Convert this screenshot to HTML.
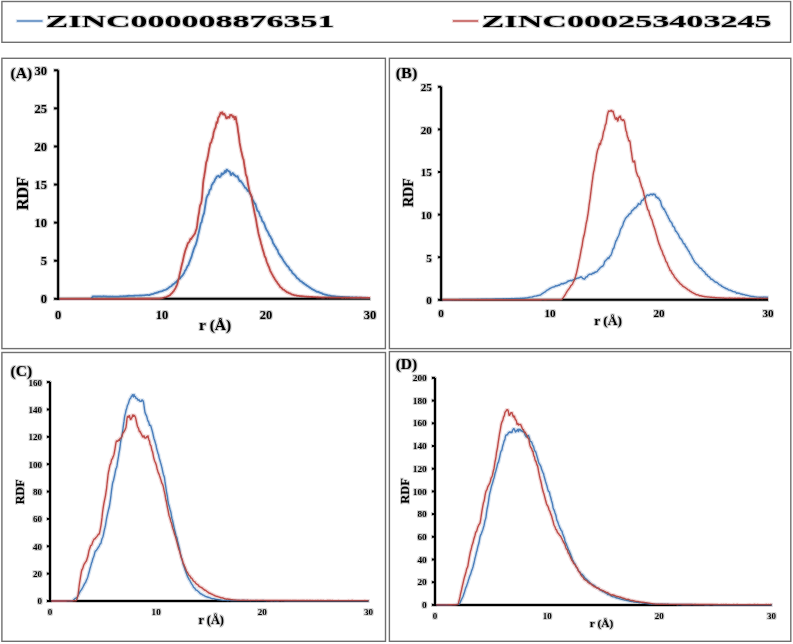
<!DOCTYPE html>
<html><head><meta charset="utf-8"><style>
html,body{margin:0;padding:0;background:#fff;}
body{width:793px;height:644px;overflow:hidden;}
svg{display:block;}
text{font-family:"Liberation Serif",serif;font-weight:bold;fill:#000;}
</style></head><body>
<svg width="793" height="644" viewBox="0 0 793 644">
<defs><filter id="soft" x="0" y="0" width="793" height="644" filterUnits="userSpaceOnUse" color-interpolation-filters="sRGB">
<feMorphology in="SourceGraphic" operator="erode" radius="1" result="e"/>
<feComposite in="SourceGraphic" in2="e" operator="arithmetic" k2="0.78" k3="0.22"/>
</filter></defs>
<g filter="url(#soft)">
<rect x="0" y="0" width="793" height="644" fill="#fff"/>
<line x1="16.8" y1="21" x2="42.5" y2="21" stroke="#4a7ebb" stroke-width="1.5"/>
<text x="45.6" y="27.4" font-size="17.5" textLength="288.8" lengthAdjust="spacingAndGlyphs">ZINC000008876351</text>
<line x1="452.9" y1="21" x2="478.1" y2="21" stroke="#be4b48" stroke-width="1.5"/>
<text x="481.6" y="27.4" font-size="17.5" textLength="290.1" lengthAdjust="spacingAndGlyphs">ZINC000253403245</text>
<line x1="58.1" y1="70.3" x2="58.1" y2="299.8" stroke="#000" stroke-width="2"/>
<line x1="57.1" y1="298.8" x2="370.1" y2="298.8" stroke="#000" stroke-width="2"/>
<line x1="54.1" y1="298.80" x2="58.1" y2="298.80" stroke="#000" stroke-width="2"/>
<text transform="translate(46.9,303.05) scale(1.0,1)" font-size="12.5" text-anchor="end">0</text>
<line x1="54.1" y1="260.72" x2="58.1" y2="260.72" stroke="#000" stroke-width="2"/>
<text transform="translate(46.9,264.97) scale(1.0,1)" font-size="12.5" text-anchor="end">5</text>
<line x1="54.1" y1="222.63" x2="58.1" y2="222.63" stroke="#000" stroke-width="2"/>
<text transform="translate(46.9,226.88) scale(1.0,1)" font-size="12.5" text-anchor="end">10</text>
<line x1="54.1" y1="184.55" x2="58.1" y2="184.55" stroke="#000" stroke-width="2"/>
<text transform="translate(46.9,188.80) scale(1.0,1)" font-size="12.5" text-anchor="end">15</text>
<line x1="54.1" y1="146.47" x2="58.1" y2="146.47" stroke="#000" stroke-width="2"/>
<text transform="translate(46.9,150.72) scale(1.0,1)" font-size="12.5" text-anchor="end">20</text>
<line x1="54.1" y1="108.38" x2="58.1" y2="108.38" stroke="#000" stroke-width="2"/>
<text transform="translate(46.9,112.63) scale(1.0,1)" font-size="12.5" text-anchor="end">25</text>
<line x1="54.1" y1="70.30" x2="58.1" y2="70.30" stroke="#000" stroke-width="2"/>
<text transform="translate(46.9,74.55) scale(1.0,1)" font-size="12.5" text-anchor="end">30</text>
<path d="M59.1,298.80 L91.1,298.79 L91.6,298.27 L92.1,297.44 L92.6,296.59 L93.1,296.36 L93.6,296.56 L94.1,296.46 L94.6,296.39 L95.1,296.45 L95.6,296.51 L96.1,296.56 L96.6,296.49 L97.1,296.50 L97.6,296.48 L98.1,296.35 L98.6,296.43 L99.1,296.44 L99.6,296.37 L100.1,296.50 L100.6,296.44 L101.1,296.41 L101.6,296.55 L102.1,296.55 L102.6,296.42 L103.1,296.24 L103.6,296.24 L104.1,296.40 L104.6,296.43 L105.1,296.42 L105.6,296.48 L106.1,296.51 L106.6,296.49 L107.1,296.57 L107.6,296.53 L108.1,296.48 L108.6,296.67 L109.1,296.75 L109.6,296.54 L110.1,296.48 L110.6,296.61 L111.1,296.69 L111.6,296.67 L112.1,296.56 L112.6,296.51 L113.1,296.59 L113.6,296.66 L114.1,296.58 L114.6,296.55 L115.1,296.56 L115.6,296.62 L116.1,296.60 L116.6,296.58 L117.1,296.67 L117.6,296.65 L118.1,296.53 L118.6,296.57 L119.1,296.55 L119.6,296.47 L120.1,296.44 L120.6,296.27 L121.1,296.30 L121.6,296.41 L122.1,296.36 L122.6,296.32 L123.1,296.25 L123.6,296.15 L124.1,296.15 L124.6,296.29 L125.1,296.33 L125.6,296.13 L126.1,296.08 L126.6,296.05 L127.1,295.95 L127.6,296.01 L128.1,295.98 L128.6,295.77 L129.1,295.72 L129.6,295.83 L130.1,295.88 L130.6,295.95 L131.1,295.87 L131.6,295.81 L132.1,295.88 L132.6,295.80 L133.1,295.82 L133.6,295.85 L134.1,295.71 L134.6,295.74 L135.1,295.70 L135.6,295.61 L136.1,295.68 L136.6,295.70 L137.1,295.63 L137.6,295.58 L138.1,295.60 L138.6,295.67 L139.1,295.60 L139.6,295.51 L140.1,295.53 L140.6,295.41 L141.1,295.61 L141.6,295.68 L142.1,295.34 L142.6,295.43 L143.1,295.43 L143.6,295.32 L144.1,295.44 L144.6,295.33 L145.1,295.19 L145.6,295.16 L146.1,295.14 L146.6,295.00 L147.1,294.86 L147.6,294.93 L148.1,295.06 L149.1,295.06 L149.6,294.99 L150.1,294.73 L150.6,294.58 L151.1,294.34 L151.6,294.13 L152.1,294.08 L152.6,294.03 L153.1,294.02 L153.6,293.77 L154.1,293.46 L154.6,293.18 L155.1,293.03 L155.6,293.03 L156.1,292.91 L156.6,292.63 L157.1,292.63 L157.6,292.69 L158.1,292.31 L158.6,291.97 L159.1,291.79 L159.6,291.71 L160.1,291.58 L160.6,291.45 L161.1,291.38 L161.6,291.32 L162.1,291.21 L162.6,290.86 L163.1,290.60 L163.6,290.38 L164.1,290.08 L164.6,290.17 L165.1,289.98 L165.6,289.78 L166.1,289.56 L166.6,289.09 L167.1,289.00 L167.6,288.68 L168.1,288.26 L168.6,287.89 L169.1,287.42 L169.6,287.07 L170.1,286.67 L170.6,286.57 L171.1,286.27 L171.6,285.91 L172.1,285.12 L172.6,284.43 L173.1,284.53 L173.6,284.05 L174.1,283.70 L174.6,283.41 L175.1,282.73 L175.6,282.24 L176.1,282.32 L176.6,281.83 L177.1,280.91 L177.6,280.30 L178.1,279.77 L178.6,279.11 L179.1,278.52 L179.6,278.70 L180.1,278.40 L180.6,277.48 L181.1,276.91 L181.6,276.57 L182.1,275.86 L182.6,275.27 L183.1,274.72 L183.6,273.63 L184.1,273.05 L184.6,271.73 L185.1,270.41 L185.6,270.12 L186.1,269.09 L186.6,267.97 L187.1,266.98 L187.6,265.77 L188.1,265.49 L188.6,264.68 L189.1,262.80 L189.6,261.75 L190.1,260.44 L190.6,259.02 L191.1,257.84 L191.6,256.63 L192.1,254.62 L192.6,252.81 L193.1,251.69 L193.6,249.57 L194.1,248.36 L194.6,247.07 L195.1,245.97 L195.6,245.14 L196.1,243.50 L196.6,241.82 L197.1,240.11 L197.6,237.49 L198.1,235.08 L198.6,233.30 L199.1,231.06 L199.6,228.70 L200.1,226.32 L200.6,223.94 L201.1,222.65 L201.6,222.26 L202.1,219.93 L202.6,217.38 L203.1,215.74 L203.6,214.38 L204.1,213.06 L204.6,209.95 L205.1,206.54 L205.6,203.41 L206.1,199.95 L206.6,197.48 L207.1,196.48 L207.6,195.32 L208.1,194.61 L208.6,194.35 L209.1,192.17 L209.6,190.34 L210.1,189.53 L210.6,189.47 L211.1,188.03 L211.6,185.33 L212.1,184.37 L212.6,184.09 L213.1,182.77 L213.6,182.38 L214.1,181.92 L214.6,180.58 L215.1,179.32 L215.6,178.43 L216.1,178.21 L216.6,176.70 L217.1,176.49 L217.6,176.35 L218.1,175.87 L218.6,175.74 L219.1,176.48 L219.6,177.14 L220.1,176.42 L220.6,176.52 L221.1,175.27 L221.6,173.46 L222.1,173.49 L222.6,174.44 L223.1,174.01 L223.6,173.32 L224.1,173.13 L224.6,171.53 L225.1,170.87 L225.6,172.31 L226.1,171.70 L226.6,169.61 L227.1,169.65 L227.6,170.36 L228.1,170.85 L228.6,171.08 L229.1,171.52 L229.6,171.52 L230.1,172.44 L230.6,174.62 L231.1,175.08 L231.6,173.81 L232.1,173.53 L232.6,173.02 L233.1,173.22 L233.6,174.83 L234.1,174.44 L234.6,174.86 L235.1,175.65 L235.6,176.21 L236.1,176.53 L236.6,176.62 L237.1,176.22 L237.6,176.24 L238.1,177.64 L238.6,179.03 L239.1,179.90 L239.6,181.01 L240.1,181.11 L240.6,180.78 L241.1,181.76 L241.6,182.24 L242.1,182.88 L242.6,183.31 L243.1,184.42 L243.6,185.28 L244.1,185.93 L244.6,186.86 L245.1,187.79 L245.6,187.88 L246.1,188.07 L246.6,189.10 L247.1,189.55 L247.6,190.86 L248.1,190.90 L248.6,190.52 L249.1,191.42 L249.6,193.07 L250.1,193.71 L250.6,194.72 L251.1,196.08 L251.6,196.63 L252.1,198.06 L252.6,199.71 L253.1,200.61 L253.6,201.24 L254.1,202.48 L254.6,203.57 L255.1,203.49 L255.6,204.44 L256.1,206.59 L256.6,208.24 L257.1,210.07 L257.6,210.94 L258.1,211.22 L258.6,211.66 L259.1,212.76 L259.6,214.54 L260.1,216.10 L260.6,216.55 L261.1,217.26 L261.6,219.00 L262.1,220.70 L262.6,221.56 L263.1,221.73 L263.6,222.46 L264.1,223.61 L264.6,224.70 L265.1,226.21 L265.6,227.89 L266.1,228.91 L266.6,230.01 L267.1,230.64 L267.6,231.39 L268.1,232.45 L268.6,233.37 L269.1,234.94 L269.6,235.94 L270.1,235.91 L270.6,236.85 L271.1,238.24 L271.6,238.82 L272.1,239.78 L272.6,241.55 L273.1,243.30 L273.6,243.78 L274.1,244.51 L274.6,245.96 L275.1,246.22 L275.6,246.77 L276.1,248.02 L276.6,248.98 L277.1,249.40 L277.6,250.13 L278.1,251.77 L278.6,253.10 L279.1,254.17 L279.6,254.55 L280.1,255.40 L280.6,256.51 L281.1,256.44 L281.6,257.28 L282.1,258.36 L282.6,259.09 L283.1,259.93 L283.6,260.88 L284.1,261.73 L284.6,262.09 L285.1,263.01 L285.6,263.87 L286.1,264.24 L286.6,265.20 L287.1,265.90 L287.6,266.12 L288.1,266.77 L288.6,267.25 L289.1,267.92 L289.6,269.35 L290.1,269.91 L290.6,270.12 L291.1,270.71 L291.6,271.19 L292.1,272.39 L292.6,273.33 L293.1,273.48 L293.6,273.89 L294.1,274.45 L294.6,274.87 L295.1,275.44 L295.6,275.98 L296.1,276.78 L296.6,277.61 L297.1,278.15 L297.6,278.49 L298.1,278.61 L298.6,279.08 L299.1,279.60 L299.6,280.19 L300.1,280.86 L300.6,281.23 L301.1,281.45 L301.6,281.37 L302.1,281.97 L302.6,282.86 L303.1,282.80 L303.6,282.97 L304.1,283.78 L304.6,283.93 L305.1,284.38 L305.6,284.86 L306.1,284.76 L306.6,285.38 L307.1,285.94 L307.6,285.98 L308.1,286.40 L308.6,286.55 L309.1,287.02 L309.6,287.52 L310.1,287.62 L310.6,288.01 L311.1,288.37 L311.6,288.88 L312.1,289.04 L312.6,289.35 L313.1,289.74 L313.6,289.86 L314.1,290.16 L314.6,290.40 L315.1,290.58 L315.6,291.05 L316.1,291.35 L316.6,291.57 L317.1,291.84 L317.6,291.78 L318.1,291.71 L318.6,291.93 L319.1,292.35 L319.6,292.61 L320.1,292.68 L320.6,292.97 L321.1,293.07 L321.6,293.04 L322.1,293.42 L322.6,293.94 L323.1,294.15 L323.6,294.03 L324.1,294.22 L324.6,294.53 L325.1,294.71 L325.6,294.76 L326.1,294.75 L326.6,294.93 L327.1,295.15 L327.6,295.40 L328.1,295.64 L328.6,295.57 L329.1,295.47 L329.6,295.63 L330.1,295.74 L330.6,295.87 L331.1,296.01 L331.6,296.07 L332.1,296.21 L332.6,296.25 L333.1,296.16 L333.6,296.13 L334.1,296.20 L334.6,296.29 L335.1,296.29 L335.6,296.45 L336.1,296.63 L336.6,296.61 L337.1,296.59 L337.6,296.56 L338.1,296.60 L338.6,296.84 L339.1,296.80 L339.6,296.73 L340.1,296.94 L340.6,296.96 L341.1,296.92 L341.6,296.98 L342.1,296.96 L342.6,296.97 L343.1,297.13 L343.6,297.06 L344.1,296.95 L344.6,297.03 L345.1,297.15 L345.6,297.24 L346.1,297.24 L346.6,297.14 L347.1,297.06 L347.6,297.13 L348.1,297.23 L348.6,297.17 L349.1,297.17 L349.6,297.26 L350.1,297.33 L350.6,297.28 L351.6,297.28 L352.1,297.24 L352.6,297.32 L353.1,297.43 L353.6,297.62 L354.1,297.57 L354.6,297.44 L355.1,297.50 L355.6,297.42 L356.1,297.42 L356.6,297.45 L357.1,297.50 L357.6,297.65 L358.1,297.61 L358.6,297.51 L359.1,297.58 L359.6,297.65 L360.1,297.59 L360.6,297.62 L361.1,297.55 L361.6,297.55 L362.1,297.69 L362.6,297.70 L363.1,297.67 L363.6,297.63 L364.1,297.66 L364.6,297.73 L365.1,297.71 L365.6,297.69 L366.1,297.74 L366.6,297.83 L367.6,297.81 L368.1,297.87 L368.6,297.90 L369.1,297.87 L369.6,297.80" fill="none" stroke="#4a7ebb" stroke-width="1.8" stroke-linejoin="round"/>
<path d="M59.1,298.80 L135.1,298.73 L135.6,298.76 L136.6,298.78 L137.1,298.75 L137.6,298.74 L138.1,298.77 L138.6,298.77 L139.1,298.74 L139.6,298.74 L140.1,298.77 L140.6,298.75 L141.1,298.73 L141.6,298.76 L146.6,298.72 L147.1,298.74 L147.6,298.74 L148.1,298.72 L151.1,298.73 L151.6,298.70 L152.1,298.68 L152.6,298.71 L154.1,298.73 L154.6,298.70 L155.6,298.71 L156.1,298.67 L156.6,298.70 L157.1,298.70 L157.6,298.68 L158.1,298.72 L158.6,298.70 L159.1,298.63 L159.6,298.59 L160.1,298.53 L160.6,298.39 L161.1,298.32 L161.6,298.28 L162.1,298.19 L162.6,298.08 L163.1,297.93 L163.6,297.76 L164.1,297.60 L164.6,297.46 L165.1,297.40 L165.6,297.25 L166.1,297.07 L166.6,296.86 L167.1,296.59 L167.6,296.39 L168.1,296.17 L168.6,295.94 L169.1,295.68 L169.6,295.46 L170.1,295.06 L170.6,294.47 L171.1,293.91 L171.6,293.41 L172.1,293.02 L172.6,292.35 L173.1,291.64 L173.6,291.14 L174.1,290.41 L174.6,289.45 L175.1,288.71 L175.6,287.84 L176.1,286.72 L176.6,285.73 L177.1,284.52 L177.6,282.77 L178.1,280.82 L178.6,279.15 L179.1,277.22 L179.6,274.48 L180.1,272.35 L180.6,270.39 L181.1,268.05 L181.6,265.69 L182.1,263.81 L182.6,261.98 L183.1,259.62 L183.6,257.35 L184.1,255.17 L184.6,253.35 L185.1,251.33 L185.6,249.78 L186.1,248.33 L186.6,247.11 L187.1,245.67 L187.6,243.89 L188.1,242.98 L188.6,242.54 L189.1,242.07 L189.6,241.32 L190.1,239.58 L190.6,238.73 L191.1,239.17 L191.6,238.50 L192.1,237.28 L192.6,236.76 L193.1,236.09 L193.6,235.42 L194.1,234.75 L194.6,234.11 L195.1,233.26 L195.6,231.34 L196.1,229.97 L196.6,228.87 L197.1,225.70 L197.6,221.67 L198.1,217.56 L198.6,214.83 L199.1,212.30 L199.6,208.21 L200.1,205.44 L200.6,204.31 L201.1,203.36 L201.6,200.89 L202.1,196.77 L202.6,190.47 L203.1,183.46 L203.6,179.39 L204.1,176.94 L204.6,173.65 L205.1,170.78 L205.6,166.82 L206.1,162.82 L206.6,161.27 L207.1,160.19 L207.6,157.54 L208.1,155.19 L208.6,152.35 L209.1,149.08 L209.6,146.98 L210.1,144.11 L210.6,142.77 L211.1,142.70 L211.6,141.11 L212.1,139.12 L212.6,138.31 L213.1,135.91 L213.6,132.51 L214.1,130.99 L214.6,129.26 L215.1,128.39 L215.6,127.32 L216.1,124.36 L216.6,122.29 L217.1,122.95 L217.6,121.58 L218.1,118.17 L218.6,117.23 L219.1,116.66 L219.6,115.57 L220.1,114.08 L220.6,112.78 L221.1,113.25 L221.6,113.61 L222.1,112.22 L222.6,112.99 L223.1,114.55 L223.6,113.99 L224.1,113.71 L224.6,114.39 L225.1,115.28 L225.6,116.01 L226.1,117.98 L226.6,118.36 L227.1,118.16 L227.6,117.68 L228.1,116.82 L228.6,117.03 L229.1,117.74 L229.6,116.99 L230.1,114.96 L230.6,115.04 L231.1,115.07 L231.6,114.99 L232.1,115.78 L232.6,116.47 L233.1,117.12 L233.6,116.24 L234.1,117.07 L234.6,119.22 L235.1,118.38 L235.6,116.96 L236.1,118.85 L236.6,122.58 L237.1,124.12 L237.6,127.14 L238.1,131.52 L238.6,134.32 L239.1,138.21 L239.6,142.65 L240.1,145.27 L240.6,147.81 L241.1,150.49 L241.6,152.42 L242.1,154.77 L242.6,157.07 L243.1,158.55 L243.6,159.67 L244.1,163.31 L244.6,166.70 L245.1,169.13 L245.6,173.18 L246.1,175.42 L246.6,176.31 L247.1,177.97 L247.6,181.47 L248.1,184.57 L248.6,186.69 L249.1,189.43 L249.6,191.33 L250.1,192.78 L250.6,194.28 L251.1,194.97 L251.6,196.68 L252.1,200.06 L252.6,202.87 L253.1,205.41 L253.6,207.85 L254.1,210.22 L254.6,213.08 L255.1,215.27 L255.6,217.55 L256.1,220.00 L256.6,223.13 L257.1,226.27 L257.6,228.52 L258.1,231.44 L258.6,233.98 L259.1,235.71 L259.6,237.81 L260.1,239.47 L260.6,241.37 L261.1,243.79 L261.6,244.99 L262.1,247.14 L262.6,249.13 L263.1,250.60 L263.6,252.31 L264.1,254.00 L264.6,256.05 L265.1,257.06 L265.6,257.77 L266.1,259.43 L266.6,261.48 L267.1,262.80 L267.6,263.80 L268.1,265.38 L268.6,266.22 L269.1,267.28 L269.6,268.89 L270.1,270.32 L270.6,271.59 L271.1,272.30 L271.6,273.35 L272.1,274.20 L272.6,275.15 L273.1,276.16 L273.6,276.90 L274.1,277.68 L274.6,278.70 L275.1,279.56 L275.6,280.23 L276.1,281.08 L276.6,281.58 L277.1,282.34 L277.6,283.27 L278.1,283.94 L278.6,284.51 L279.1,285.07 L279.6,285.89 L280.1,286.88 L280.6,287.19 L281.1,287.46 L281.6,288.00 L282.1,288.50 L282.6,289.06 L283.1,289.52 L283.6,289.53 L284.1,289.73 L284.6,290.34 L285.1,290.77 L285.6,291.16 L286.1,291.43 L286.6,291.90 L287.1,292.46 L287.6,292.35 L288.1,292.37 L288.6,292.94 L289.1,293.20 L289.6,293.36 L290.1,293.45 L290.6,293.62 L291.1,294.02 L291.6,294.40 L292.1,294.53 L292.6,294.54 L293.1,294.71 L293.6,294.92 L294.1,295.11 L294.6,295.27 L295.1,295.30 L295.6,295.42 L296.1,295.47 L296.6,295.60 L297.1,295.86 L297.6,295.78 L298.1,295.80 L298.6,295.88 L299.1,295.99 L299.6,296.18 L300.1,296.15 L300.6,296.21 L301.1,296.25 L301.6,296.19 L302.1,296.23 L302.6,296.31 L303.1,296.37 L303.6,296.43 L304.1,296.46 L304.6,296.54 L305.1,296.68 L305.6,296.64 L306.1,296.52 L306.6,296.63 L307.1,296.83 L307.6,296.80 L308.1,296.69 L308.6,296.75 L309.1,296.95 L309.6,296.86 L310.1,296.83 L310.6,296.96 L311.1,296.92 L311.6,297.00 L312.1,297.00 L312.6,297.02 L313.1,297.20 L313.6,297.22 L314.1,297.13 L314.6,297.05 L315.1,297.06 L315.6,297.08 L316.1,297.26 L316.6,297.37 L317.1,297.25 L317.6,297.22 L318.1,297.23 L318.6,297.30 L319.1,297.30 L319.6,297.41 L320.1,297.45 L320.6,297.33 L321.1,297.39 L321.6,297.51 L322.1,297.57 L322.6,297.48 L323.1,297.44 L323.6,297.48 L324.1,297.50 L324.6,297.51 L325.1,297.45 L325.6,297.38 L326.1,297.44 L326.6,297.45 L327.1,297.52 L327.6,297.58 L328.1,297.47 L328.6,297.46 L329.1,297.49 L329.6,297.51 L330.1,297.59 L330.6,297.53 L331.1,297.40 L331.6,297.49 L332.1,297.58 L332.6,297.58 L333.1,297.61 L333.6,297.60 L334.1,297.63 L334.6,297.60 L335.1,297.57 L335.6,297.58 L336.1,297.53 L336.6,297.60 L337.1,297.68 L337.6,297.57 L338.1,297.50 L338.6,297.61 L339.1,297.71 L339.6,297.67 L340.1,297.62 L340.6,297.59 L341.1,297.72 L341.6,297.81 L342.1,297.74 L343.6,297.76 L344.1,297.71 L344.6,297.72 L345.1,297.74 L345.6,297.77 L346.1,297.74 L346.6,297.66 L347.1,297.72 L347.6,297.81 L348.1,297.79 L348.6,297.70 L349.6,297.71 L350.1,297.80 L350.6,297.86 L351.1,297.84 L351.6,297.82 L352.1,297.74 L352.6,297.78 L353.1,297.88 L353.6,297.86 L354.1,297.78 L354.6,297.81 L356.1,297.77 L356.6,297.70 L357.1,297.76 L357.6,297.82 L358.1,297.87 L358.6,297.85 L359.1,297.77 L359.6,297.74 L360.1,297.66 L360.6,297.63 L361.1,297.73 L361.6,297.76 L362.1,297.79 L362.6,297.90 L363.1,297.84 L363.6,297.85 L364.1,297.88 L364.6,297.85 L365.6,297.83 L366.1,297.80 L366.6,297.78 L367.1,297.81 L367.6,297.77 L368.1,297.82 L368.6,297.83 L369.1,297.80 L369.6,297.83 L370.0,297.87" fill="none" stroke="#be4b48" stroke-width="1.8" stroke-linejoin="round"/>
<text transform="translate(58.10,318.8) scale(1.0,1)" font-size="12.5" text-anchor="middle">0</text>
<text transform="translate(162.10,318.8) scale(1.0,1)" font-size="12.5" text-anchor="middle">10</text>
<text transform="translate(266.10,318.8) scale(1.0,1)" font-size="12.5" text-anchor="middle">20</text>
<text transform="translate(370.10,318.8) scale(1.0,1)" font-size="12.5" text-anchor="middle">30</text>
<text x="215.2" y="329.8" font-size="15.6" text-anchor="middle">r (Å)</text>
<text transform="translate(27.8,193.5) rotate(-90)" x="0" y="0" font-size="16" text-anchor="middle">RDF</text>
<text x="10.6" y="78.3" font-size="15" textLength="21.6" lengthAdjust="spacingAndGlyphs">(A)</text>
<line x1="441.1" y1="86.8" x2="441.1" y2="300.8" stroke="#000" stroke-width="2"/>
<line x1="440.1" y1="299.8" x2="768" y2="299.8" stroke="#000" stroke-width="2"/>
<line x1="438.1" y1="299.80" x2="441.1" y2="299.80" stroke="#000" stroke-width="2"/>
<text transform="translate(431.8,304.10) scale(1.05,1)" font-size="10.6" text-anchor="end">0</text>
<line x1="438.1" y1="257.20" x2="441.1" y2="257.20" stroke="#000" stroke-width="2"/>
<text transform="translate(431.8,261.50) scale(1.05,1)" font-size="10.6" text-anchor="end">5</text>
<line x1="438.1" y1="214.60" x2="441.1" y2="214.60" stroke="#000" stroke-width="2"/>
<text transform="translate(431.8,218.90) scale(1.05,1)" font-size="10.6" text-anchor="end">10</text>
<line x1="438.1" y1="172.00" x2="441.1" y2="172.00" stroke="#000" stroke-width="2"/>
<text transform="translate(431.8,176.30) scale(1.05,1)" font-size="10.6" text-anchor="end">15</text>
<line x1="438.1" y1="129.40" x2="441.1" y2="129.40" stroke="#000" stroke-width="2"/>
<text transform="translate(431.8,133.70) scale(1.05,1)" font-size="10.6" text-anchor="end">20</text>
<line x1="438.1" y1="86.80" x2="441.1" y2="86.80" stroke="#000" stroke-width="2"/>
<text transform="translate(431.8,91.10) scale(1.05,1)" font-size="10.6" text-anchor="end">25</text>
<path d="M442.1,299.80 L449.1,299.75 L449.6,299.72 L450.1,299.71 L450.6,299.69 L451.6,299.70 L452.1,299.66 L452.6,299.67 L453.1,299.70 L453.6,299.71 L454.1,299.66 L454.6,299.64 L455.1,299.66 L455.6,299.66 L456.1,299.63 L456.6,299.62 L457.1,299.64 L457.6,299.68 L458.1,299.64 L458.6,299.58 L459.1,299.58 L459.6,299.54 L460.1,299.53 L460.6,299.55 L461.1,299.58 L461.6,299.60 L462.1,299.53 L462.6,299.54 L463.1,299.56 L463.6,299.50 L465.6,299.50 L466.1,299.46 L466.6,299.44 L467.1,299.51 L467.6,299.53 L469.1,299.53 L469.6,299.46 L470.1,299.44 L470.6,299.41 L471.1,299.36 L471.6,299.35 L472.1,299.39 L472.6,299.47 L473.1,299.43 L473.6,299.43 L474.1,299.41 L474.6,299.36 L475.1,299.38 L475.6,299.33 L476.1,299.33 L476.6,299.41 L477.1,299.36 L477.6,299.32 L479.1,299.38 L479.6,299.34 L480.1,299.33 L480.6,299.31 L481.1,299.24 L481.6,299.27 L482.1,299.26 L482.6,299.22 L483.1,299.28 L483.6,299.23 L484.1,299.21 L484.6,299.27 L485.1,299.26 L485.6,299.18 L486.1,299.08 L486.6,299.07 L487.1,299.14 L487.6,299.15 L488.1,299.12 L488.6,299.15 L489.1,299.15 L489.6,299.13 L490.1,299.17 L490.6,299.13 L491.1,299.09 L491.6,299.19 L492.1,299.22 L492.6,299.09 L493.1,299.05 L493.6,299.11 L494.1,299.15 L494.6,299.12 L495.1,299.05 L495.6,299.01 L496.1,299.04 L496.6,299.07 L497.1,299.02 L497.6,298.99 L498.1,298.98 L498.6,299.01 L499.1,298.99 L499.6,298.97 L500.1,299.02 L500.6,299.01 L501.1,298.93 L501.6,298.96 L502.1,298.95 L502.6,298.90 L503.1,298.89 L503.6,298.79 L504.1,298.82 L504.6,298.89 L505.1,298.86 L505.6,298.85 L506.1,298.81 L506.6,298.76 L507.1,298.76 L507.6,298.87 L508.1,298.90 L508.6,298.77 L509.1,298.75 L509.6,298.74 L510.1,298.67 L510.6,298.72 L511.1,298.70 L511.6,298.57 L512.1,298.53 L512.6,298.60 L513.1,298.63 L513.6,298.67 L514.1,298.61 L514.6,298.57 L515.1,298.61 L515.6,298.55 L516.6,298.56 L517.1,298.46 L517.6,298.47 L518.1,298.43 L518.6,298.35 L519.1,298.40 L519.6,298.39 L520.1,298.33 L520.6,298.29 L521.1,298.30 L521.6,298.33 L522.1,298.27 L522.6,298.19 L523.1,298.20 L523.6,298.10 L524.1,298.23 L524.6,298.26 L525.1,297.97 L525.6,298.00 L526.1,297.96 L526.6,297.83 L527.1,297.88 L527.6,297.74 L528.1,297.57 L528.6,297.49 L529.1,297.42 L529.6,297.26 L530.1,297.08 L530.6,297.09 L531.1,297.15 L531.6,297.11 L532.1,297.06 L532.6,296.97 L533.1,296.69 L533.6,296.53 L534.1,296.31 L534.6,296.14 L535.6,296.12 L536.1,296.16 L536.6,295.98 L537.1,295.75 L537.6,295.54 L538.1,295.45 L538.6,295.47 L539.1,295.37 L539.6,295.11 L540.1,295.08 L540.6,295.05 L541.1,294.58 L541.6,294.09 L542.1,293.72 L542.6,293.43 L543.1,293.09 L543.6,292.74 L544.1,292.46 L544.6,292.21 L545.1,291.92 L545.6,291.40 L546.1,290.95 L546.6,290.56 L547.1,290.08 L547.6,290.04 L548.1,289.72 L548.6,289.40 L549.1,289.10 L549.6,288.56 L550.1,288.50 L550.6,288.22 L551.1,287.89 L551.6,287.64 L552.1,287.30 L552.6,287.11 L553.1,286.90 L553.6,287.00 L554.1,286.90 L554.6,286.74 L555.1,286.17 L555.6,285.71 L556.1,286.06 L556.6,285.83 L557.1,285.73 L557.6,285.70 L558.1,285.28 L558.6,285.05 L559.1,285.38 L559.6,285.16 L560.1,284.54 L560.6,284.23 L561.1,284.01 L561.6,283.67 L562.1,283.42 L562.6,283.89 L563.1,283.93 L563.6,283.42 L564.1,283.24 L564.6,283.28 L565.1,283.01 L565.6,282.86 L566.1,282.77 L566.6,282.23 L567.1,282.17 L567.6,281.52 L568.1,280.90 L568.6,281.22 L569.1,280.97 L569.6,280.72 L570.1,280.59 L570.6,280.32 L571.1,280.80 L571.6,280.88 L572.1,280.17 L572.6,280.14 L573.1,279.94 L573.6,279.69 L574.1,279.64 L574.6,279.63 L575.1,279.11 L575.6,278.77 L576.1,278.91 L576.6,278.33 L577.1,278.31 L577.6,278.15 L578.1,278.04 L578.6,278.12 L579.1,277.74 L579.6,277.48 L580.1,277.40 L580.6,276.92 L581.1,276.73 L581.6,277.21 L582.1,277.68 L582.6,278.29 L583.1,278.75 L583.6,278.76 L584.1,278.89 L584.6,279.23 L585.1,278.39 L585.6,277.41 L586.1,277.01 L586.6,276.82 L587.1,276.82 L587.6,275.99 L588.1,275.16 L588.6,274.91 L589.1,274.54 L589.6,274.16 L590.1,274.25 L590.6,274.12 L591.1,274.16 L591.6,274.42 L592.1,273.68 L592.6,273.08 L593.1,273.03 L593.6,273.42 L594.1,273.18 L594.6,272.31 L595.1,272.23 L595.6,272.35 L596.1,271.86 L596.6,271.75 L597.1,271.55 L597.6,270.83 L598.1,270.12 L598.6,269.54 L599.1,269.26 L599.6,268.27 L600.1,267.92 L600.6,267.57 L601.1,267.00 L601.6,266.57 L602.1,266.55 L602.6,266.44 L603.1,265.54 L603.6,264.98 L604.1,263.53 L604.6,261.70 L605.1,260.96 L605.6,260.87 L606.1,260.14 L606.6,259.45 L607.1,259.23 L607.6,258.24 L608.1,257.78 L608.6,258.49 L609.1,257.95 L609.6,256.44 L610.1,256.03 L610.6,255.71 L611.1,254.84 L611.6,253.44 L612.1,251.93 L612.6,250.02 L613.1,248.76 L613.6,248.53 L614.1,247.38 L614.6,245.14 L615.1,243.59 L615.6,241.87 L616.1,240.62 L616.6,240.38 L617.1,238.71 L617.6,237.62 L618.1,236.77 L618.6,235.72 L619.1,234.45 L619.6,232.92 L620.1,230.88 L620.6,229.08 L621.1,228.35 L621.6,227.65 L622.1,226.61 L622.6,225.84 L623.1,224.23 L623.6,222.27 L624.1,221.44 L624.6,220.25 L625.1,219.25 L625.6,218.15 L626.1,217.74 L626.6,217.20 L627.1,216.53 L627.6,216.15 L628.1,215.85 L628.6,214.86 L629.1,214.04 L629.6,214.00 L630.1,213.42 L630.6,213.58 L631.1,212.51 L631.6,210.96 L632.1,210.50 L632.6,210.63 L633.1,209.75 L633.6,209.16 L634.1,208.90 L634.6,207.88 L635.1,207.77 L635.6,207.93 L636.1,207.34 L636.6,206.48 L637.1,206.23 L637.6,205.81 L638.1,204.15 L638.6,203.51 L639.1,204.10 L639.6,204.14 L640.1,204.36 L640.6,203.54 L641.1,202.06 L641.6,200.73 L642.1,200.14 L642.6,200.34 L643.1,200.29 L643.6,198.98 L644.1,197.96 L644.6,198.17 L645.1,198.39 L645.6,197.68 L646.1,196.21 L646.6,195.45 L647.1,195.19 L647.6,194.87 L648.1,195.09 L648.6,195.58 L649.1,195.30 L649.6,195.18 L650.1,194.55 L650.6,194.17 L651.1,194.24 L651.6,194.17 L652.1,195.01 L652.6,195.11 L653.1,193.87 L653.6,193.95 L654.1,194.65 L654.6,194.28 L655.1,194.48 L655.6,195.87 L656.1,197.31 L656.6,197.03 L657.1,197.15 L657.6,198.35 L658.1,197.89 L658.6,197.90 L659.1,199.13 L659.6,200.12 L660.1,200.46 L660.6,201.34 L661.1,203.62 L661.6,205.44 L662.1,206.84 L662.6,207.12 L663.1,208.05 L663.6,209.35 L664.1,208.86 L664.6,209.76 L665.1,211.05 L665.6,211.82 L666.1,212.83 L666.6,214.04 L667.1,215.17 L667.6,215.58 L668.1,216.90 L668.6,218.17 L669.1,218.66 L669.6,220.09 L670.1,221.08 L670.6,221.28 L671.1,222.13 L671.6,222.69 L672.1,223.53 L672.6,225.64 L673.1,226.33 L673.6,226.46 L674.1,227.23 L674.6,227.86 L675.1,229.72 L675.6,231.17 L676.1,231.30 L676.6,231.89 L677.1,232.72 L677.6,233.33 L678.1,234.16 L678.6,234.96 L679.1,236.20 L679.6,237.49 L680.1,238.30 L680.6,238.78 L681.1,238.87 L681.6,239.64 L682.1,240.52 L682.6,241.59 L683.1,242.82 L683.6,243.50 L684.1,243.93 L684.6,243.82 L685.1,244.98 L685.6,246.71 L686.1,246.68 L686.6,247.11 L687.1,248.76 L687.6,249.21 L688.1,250.23 L688.6,251.31 L689.1,251.30 L689.6,252.69 L690.1,253.97 L690.6,254.27 L691.1,255.37 L691.6,255.95 L692.1,257.18 L692.6,258.46 L693.1,258.96 L693.6,259.97 L694.1,260.86 L694.6,261.99 L695.1,262.35 L695.6,262.97 L696.1,263.72 L696.6,263.91 L697.1,264.48 L697.6,264.93 L698.1,265.30 L698.6,266.30 L699.1,266.97 L699.6,267.53 L700.1,268.19 L700.6,268.18 L701.1,268.13 L701.6,268.74 L702.1,269.77 L702.6,270.45 L703.1,270.70 L703.6,271.44 L704.1,271.73 L704.6,271.71 L705.1,272.64 L705.6,273.93 L706.1,274.50 L706.6,274.29 L707.1,274.84 L707.6,275.72 L708.1,276.29 L708.6,276.54 L709.1,276.65 L709.6,277.23 L710.1,277.92 L710.6,278.65 L711.1,279.39 L711.6,279.31 L712.1,279.18 L712.6,279.69 L713.1,280.11 L713.6,280.59 L714.1,281.09 L714.6,281.41 L715.1,281.93 L715.6,282.21 L716.1,282.14 L716.6,282.26 L717.1,282.63 L717.6,283.10 L718.1,283.32 L718.6,283.98 L719.1,284.69 L719.6,284.85 L720.1,285.00 L720.6,285.14 L721.1,285.45 L721.6,286.31 L722.1,286.39 L722.6,286.40 L723.1,287.14 L723.6,287.41 L724.1,287.50 L724.6,287.86 L725.1,287.99 L725.6,288.20 L726.1,288.81 L726.6,288.81 L727.1,288.71 L727.6,289.11 L728.1,289.59 L728.6,289.98 L729.1,290.15 L729.6,290.08 L730.1,290.04 L730.6,290.37 L731.1,290.78 L731.6,290.79 L732.1,290.94 L732.6,291.32 L733.1,291.62 L733.6,291.63 L734.1,291.75 L734.6,291.89 L735.1,291.94 L735.6,292.23 L736.1,292.62 L736.6,293.18 L737.1,293.18 L737.6,292.99 L738.1,293.22 L738.6,293.16 L739.1,293.27 L739.6,293.43 L740.1,293.66 L740.6,294.09 L741.1,294.10 L741.6,294.00 L742.1,294.25 L742.6,294.50 L743.1,294.47 L743.6,294.63 L744.1,294.57 L744.6,294.68 L745.1,295.07 L745.6,295.18 L746.1,295.21 L746.6,295.20 L747.1,295.36 L747.6,295.57 L748.1,295.62 L748.6,295.66 L749.1,295.84 L749.6,296.10 L750.1,296.15 L750.6,296.21 L751.1,296.38 L751.6,296.52 L752.1,296.51 L752.6,296.44 L753.1,296.46 L753.6,296.55 L754.1,296.70 L754.6,296.85 L755.6,296.86 L756.1,296.89 L756.6,297.03 L757.1,297.13 L759.1,297.13 L759.6,297.27 L760.1,297.35 L760.6,297.21 L761.1,297.12 L761.6,297.09 L762.1,297.20 L762.6,297.36 L763.1,297.22 L763.6,297.03 L764.1,297.12 L764.6,297.14 L765.1,297.04 L765.6,297.08 L766.1,297.25 L766.6,297.14 L767.1,297.10 L767.6,297.28 L768.0,297.34" fill="none" stroke="#4a7ebb" stroke-width="1.4" stroke-linejoin="round"/>
<path d="M442.1,299.80 L518.1,299.73 L518.6,299.75 L519.6,299.77 L520.1,299.74 L520.6,299.73 L521.1,299.76 L521.6,299.76 L522.1,299.74 L522.6,299.73 L523.1,299.76 L523.6,299.74 L524.1,299.72 L524.6,299.75 L529.6,299.71 L530.1,299.73 L530.6,299.74 L531.1,299.71 L534.1,299.72 L534.6,299.68 L535.1,299.66 L535.6,299.69 L537.1,299.72 L537.6,299.69 L538.6,299.70 L539.1,299.65 L539.6,299.69 L540.1,299.69 L540.6,299.67 L541.1,299.71 L541.6,299.70 L542.1,299.66 L543.1,299.67 L543.6,299.63 L544.1,299.65 L544.6,299.68 L547.6,299.64 L548.1,299.66 L549.6,299.65 L550.1,299.63 L553.1,299.67 L553.6,299.63 L554.6,299.61 L555.1,299.64 L556.1,299.61 L556.6,299.64 L557.1,299.63 L557.6,299.61 L560.1,299.65 L560.6,299.62 L561.1,299.58 L561.6,299.56 L562.1,299.24 L562.6,298.55 L563.1,297.87 L563.6,297.22 L564.1,296.48 L564.6,295.60 L565.1,294.81 L565.6,293.99 L566.1,292.97 L566.6,292.06 L567.1,291.27 L567.6,290.66 L568.1,289.91 L568.6,289.26 L569.1,288.56 L569.6,287.91 L570.1,287.08 L570.6,286.06 L571.1,285.45 L571.6,285.04 L572.1,284.55 L572.6,283.81 L573.1,282.40 L573.6,281.33 L574.1,280.83 L574.6,279.52 L575.1,277.72 L575.6,276.24 L576.1,274.55 L576.6,272.60 L577.1,270.41 L577.6,268.15 L578.1,265.81 L578.6,262.87 L579.1,260.55 L579.6,258.66 L580.1,255.93 L580.6,253.09 L581.1,250.05 L581.6,247.88 L582.1,245.79 L582.6,242.12 L583.1,239.03 L583.6,237.01 L584.1,235.30 L584.6,232.81 L585.1,230.15 L585.6,227.15 L586.1,223.73 L586.6,221.65 L587.1,219.47 L587.6,216.10 L588.1,213.27 L588.6,209.54 L589.1,205.10 L589.6,201.84 L590.1,198.67 L590.6,194.30 L591.1,190.46 L591.6,186.53 L592.1,182.38 L592.6,179.18 L593.1,174.92 L593.6,171.91 L594.1,170.09 L594.6,166.95 L595.1,163.60 L595.6,161.68 L596.1,158.46 L596.6,154.45 L597.1,152.27 L597.6,149.95 L598.1,148.73 L598.6,147.62 L599.1,145.00 L599.6,143.47 L600.1,144.70 L600.6,143.89 L601.1,140.92 L601.6,140.10 L602.1,139.17 L602.6,137.16 L603.1,134.23 L603.6,131.42 L604.1,130.32 L604.6,128.98 L605.1,125.66 L605.6,124.30 L606.1,123.52 L606.6,119.97 L607.1,116.46 L607.6,114.23 L608.1,112.38 L608.6,111.00 L609.1,111.42 L609.6,111.24 L610.1,111.15 L610.6,110.97 L611.1,110.33 L611.6,110.71 L612.1,111.61 L612.6,111.57 L613.1,111.27 L613.6,113.29 L614.1,114.92 L614.6,116.48 L615.1,118.39 L615.6,119.15 L616.1,119.22 L616.6,117.72 L617.1,118.44 L617.6,120.99 L618.1,120.24 L618.6,117.81 L619.1,116.96 L619.6,117.33 L620.1,115.91 L620.6,117.04 L621.1,119.64 L621.6,119.61 L622.1,119.82 L622.6,120.51 L623.1,119.73 L623.6,119.76 L624.1,120.64 L624.6,122.05 L625.1,125.16 L625.6,128.78 L626.1,130.98 L626.6,131.87 L627.1,134.98 L627.6,137.18 L628.1,137.88 L628.6,140.37 L629.1,140.98 L629.6,140.63 L630.1,142.12 L630.6,146.35 L631.1,150.34 L631.6,153.08 L632.1,157.08 L632.6,160.40 L633.1,161.92 L633.6,162.05 L634.1,160.97 L634.6,161.18 L635.1,164.33 L635.6,168.05 L636.1,171.12 L636.6,172.84 L637.1,174.10 L637.6,175.75 L638.1,176.34 L638.6,176.91 L639.1,177.76 L639.6,179.70 L640.1,181.83 L640.6,182.95 L641.1,185.06 L641.6,186.81 L642.1,187.63 L642.6,189.19 L643.1,190.54 L643.6,192.54 L644.1,195.38 L644.6,196.61 L645.1,199.34 L645.6,201.87 L646.1,203.57 L646.6,205.44 L647.1,207.19 L647.6,209.44 L648.1,210.12 L648.6,210.34 L649.1,212.02 L649.6,214.38 L650.1,215.71 L650.6,216.60 L651.1,218.44 L651.6,219.09 L652.1,220.14 L652.6,222.19 L653.1,224.08 L653.6,225.86 L654.1,226.87 L654.6,228.59 L655.1,230.08 L655.6,231.88 L656.1,233.85 L656.6,235.43 L657.1,237.12 L657.6,239.23 L658.1,241.07 L658.6,242.50 L659.1,244.18 L659.6,245.14 L660.1,246.49 L660.6,248.12 L661.1,249.25 L661.6,250.20 L662.1,251.14 L662.6,252.66 L663.1,254.62 L663.6,255.34 L664.1,256.11 L664.6,257.52 L665.1,258.88 L665.6,260.40 L666.1,261.76 L666.6,262.14 L667.1,262.92 L667.6,264.57 L668.1,265.80 L668.6,266.89 L669.1,267.72 L669.6,269.00 L670.1,270.52 L670.6,270.55 L671.1,270.88 L671.6,272.44 L672.1,273.31 L672.6,273.93 L673.1,274.39 L673.6,274.99 L674.1,276.16 L674.6,277.28 L675.1,277.82 L675.6,278.10 L676.1,278.76 L676.6,279.52 L677.1,280.23 L677.6,280.91 L678.1,281.28 L678.6,281.86 L679.1,282.31 L679.6,282.95 L680.1,283.88 L680.6,284.00 L681.1,284.33 L681.6,284.80 L682.1,285.34 L682.6,286.06 L683.1,286.25 L683.6,286.65 L684.1,286.99 L684.6,287.10 L685.1,287.45 L685.6,287.88 L686.1,288.26 L686.6,288.65 L687.1,288.95 L687.6,289.38 L688.1,289.94 L688.6,290.10 L689.1,290.11 L689.6,290.62 L690.1,291.30 L690.6,291.52 L691.1,291.56 L691.6,291.94 L692.1,292.61 L692.6,292.67 L693.1,292.85 L693.6,293.31 L694.1,293.44 L694.6,293.78 L695.1,293.96 L695.6,294.16 L696.1,294.64 L696.6,294.83 L697.1,294.81 L697.6,294.81 L698.1,294.95 L698.6,295.11 L699.1,295.53 L699.6,295.80 L700.1,295.69 L700.6,295.70 L701.1,295.80 L701.6,295.98 L702.1,296.06 L702.6,296.31 L703.1,296.44 L703.6,296.32 L704.1,296.48 L704.6,296.73 L705.1,296.88 L705.6,296.79 L706.1,296.77 L706.6,296.88 L707.1,296.96 L707.6,297.02 L708.1,296.97 L708.6,296.91 L709.1,297.04 L709.6,297.10 L710.1,297.23 L710.6,297.36 L711.1,297.25 L711.6,297.27 L712.1,297.35 L712.6,297.41 L713.1,297.55 L713.6,297.51 L714.1,297.37 L714.6,297.53 L715.1,297.68 L715.6,297.71 L716.1,297.78 L716.6,297.80 L717.1,297.85 L718.1,297.82 L718.6,297.85 L719.1,297.80 L719.6,297.91 L720.1,298.03 L720.6,297.90 L721.1,297.81 L721.6,297.95 L722.1,298.09 L722.6,298.04 L723.1,297.98 L723.6,297.94 L724.1,298.11 L724.6,298.23 L725.1,298.14 L726.6,298.18 L727.1,298.11 L727.6,298.13 L728.1,298.16 L728.6,298.20 L729.1,298.16 L729.6,298.06 L730.1,298.15 L730.6,298.26 L731.1,298.23 L731.6,298.13 L732.6,298.14 L733.1,298.26 L733.6,298.34 L734.1,298.31 L734.6,298.29 L735.1,298.19 L735.6,298.25 L736.1,298.37 L736.6,298.35 L737.1,298.26 L737.6,298.29 L739.1,298.25 L739.6,298.16 L740.1,298.24 L740.6,298.32 L741.1,298.39 L741.6,298.36 L742.1,298.27 L742.6,298.23 L743.1,298.13 L743.6,298.10 L744.1,298.23 L744.6,298.27 L745.1,298.31 L745.6,298.45 L746.1,298.38 L746.6,298.39 L747.1,298.42 L747.6,298.40 L748.1,298.38 L748.6,298.37 L749.1,298.34 L749.6,298.32 L750.1,298.35 L750.6,298.32 L751.1,298.38 L751.6,298.40 L752.1,298.36 L752.6,298.39 L753.1,298.44 L753.6,298.33 L754.1,298.32 L754.6,298.43 L755.1,298.37 L755.6,298.35 L756.1,298.33 L756.6,298.38 L757.1,298.44 L757.6,298.36 L758.1,298.44 L758.6,298.44 L759.1,298.41 L759.6,298.36 L760.1,298.30 L760.6,298.29 L761.1,298.31 L761.6,298.44 L762.1,298.46 L762.6,298.45 L763.1,298.39 L763.6,298.30 L764.1,298.33 L764.6,298.40 L765.1,298.45 L765.6,298.42 L766.6,298.42 L767.1,298.39 L767.6,298.47 L768.0,298.44" fill="none" stroke="#be4b48" stroke-width="1.4" stroke-linejoin="round"/>
<text transform="translate(441.10,316.9) scale(1.05,1)" font-size="10.6" text-anchor="middle">0</text>
<text transform="translate(550.07,316.9) scale(1.05,1)" font-size="10.6" text-anchor="middle">10</text>
<text transform="translate(659.03,316.9) scale(1.05,1)" font-size="10.6" text-anchor="middle">20</text>
<text transform="translate(768.00,316.9) scale(1.05,1)" font-size="10.6" text-anchor="middle">30</text>
<text x="608.1" y="325.0" font-size="13.4" text-anchor="middle">r (Å)</text>
<text transform="translate(412.6,192.6) rotate(-90)" x="0" y="0" font-size="14" text-anchor="middle">RDF</text>
<text x="395.7" y="78.2" font-size="15" textLength="21.6" lengthAdjust="spacingAndGlyphs">(B)</text>
<line x1="50" y1="382.1" x2="50" y2="602.0" stroke="#000" stroke-width="2"/>
<line x1="49.0" y1="601" x2="368.4" y2="601" stroke="#000" stroke-width="2"/>
<line x1="47" y1="601.00" x2="50" y2="601.00" stroke="#000" stroke-width="2"/>
<text transform="translate(42.1,604.46) scale(1.08,1)" font-size="8.4" text-anchor="end">0</text>
<line x1="47" y1="573.64" x2="50" y2="573.64" stroke="#000" stroke-width="2"/>
<text transform="translate(42.1,577.09) scale(1.08,1)" font-size="8.4" text-anchor="end">20</text>
<line x1="47" y1="546.27" x2="50" y2="546.27" stroke="#000" stroke-width="2"/>
<text transform="translate(42.1,549.73) scale(1.08,1)" font-size="8.4" text-anchor="end">40</text>
<line x1="47" y1="518.91" x2="50" y2="518.91" stroke="#000" stroke-width="2"/>
<text transform="translate(42.1,522.37) scale(1.08,1)" font-size="8.4" text-anchor="end">60</text>
<line x1="47" y1="491.55" x2="50" y2="491.55" stroke="#000" stroke-width="2"/>
<text transform="translate(42.1,495.01) scale(1.08,1)" font-size="8.4" text-anchor="end">80</text>
<line x1="47" y1="464.19" x2="50" y2="464.19" stroke="#000" stroke-width="2"/>
<text transform="translate(42.1,467.64) scale(1.08,1)" font-size="8.4" text-anchor="end">100</text>
<line x1="47" y1="436.83" x2="50" y2="436.83" stroke="#000" stroke-width="2"/>
<text transform="translate(42.1,440.28) scale(1.08,1)" font-size="8.4" text-anchor="end">120</text>
<line x1="47" y1="409.46" x2="50" y2="409.46" stroke="#000" stroke-width="2"/>
<text transform="translate(42.1,412.92) scale(1.08,1)" font-size="8.4" text-anchor="end">140</text>
<line x1="47" y1="382.10" x2="50" y2="382.10" stroke="#000" stroke-width="2"/>
<text transform="translate(42.1,385.56) scale(1.08,1)" font-size="8.4" text-anchor="end">160</text>
<path d="M51.0,601.00 L62.5,600.98 L63.0,600.95 L64.5,600.95 L65.0,600.93 L66.0,600.93 L66.5,600.95 L67.0,600.92 L67.5,600.88 L68.0,600.87 L68.5,600.84 L69.5,600.84 L70.0,600.86 L70.5,600.86 L71.0,600.80 L72.0,600.82 L72.5,600.76 L73.0,600.53 L73.5,600.08 L74.0,599.51 L74.5,599.09 L75.0,598.62 L75.5,598.23 L76.0,598.08 L76.5,597.75 L77.0,597.27 L77.5,596.65 L78.0,595.90 L78.5,594.77 L79.0,593.76 L79.5,592.75 L80.0,591.69 L80.5,590.82 L81.0,590.18 L81.5,589.79 L82.0,588.74 L82.5,587.93 L83.0,586.95 L83.5,585.76 L84.0,585.00 L84.5,583.89 L85.0,583.02 L85.5,582.63 L86.0,581.33 L86.5,580.00 L87.0,578.93 L87.5,577.65 L88.0,576.16 L88.5,574.18 L89.0,572.44 L89.5,570.61 L90.0,568.39 L90.5,566.91 L91.0,565.14 L91.5,563.09 L92.0,561.95 L92.5,560.04 L93.0,558.28 L93.5,557.27 L94.0,555.74 L94.5,553.81 L95.0,551.84 L95.5,550.89 L96.0,550.79 L96.5,550.17 L97.0,549.28 L97.5,548.72 L98.0,547.95 L98.5,546.91 L99.0,546.42 L99.5,545.25 L100.0,543.94 L100.5,543.85 L101.0,543.06 L101.5,540.58 L102.0,538.75 L102.5,537.73 L103.0,536.40 L103.5,534.34 L104.0,531.69 L104.5,529.27 L105.0,527.42 L105.5,525.22 L106.0,522.00 L106.5,518.98 L107.0,516.29 L107.5,514.16 L108.0,511.82 L108.5,509.60 L109.0,508.09 L109.5,505.76 L110.0,502.35 L110.5,499.24 L111.0,495.19 L111.5,490.71 L112.0,487.37 L112.5,483.68 L113.0,481.75 L113.5,480.50 L114.0,478.21 L114.5,476.01 L115.0,473.44 L115.5,470.69 L116.0,468.70 L116.5,467.76 L117.0,465.90 L117.5,462.15 L118.0,459.29 L118.5,456.38 L119.0,452.79 L119.5,450.38 L120.0,447.23 L120.5,442.78 L121.0,439.52 L121.5,437.42 L122.0,434.89 L122.5,432.37 L123.0,428.54 L123.5,424.54 L124.0,421.44 L124.5,417.47 L125.0,414.91 L125.5,413.14 L126.0,410.30 L126.5,408.99 L127.0,407.17 L127.5,405.04 L128.0,404.34 L128.5,403.20 L129.0,401.39 L129.5,399.67 L130.0,398.72 L130.5,398.37 L131.0,397.31 L131.5,396.12 L132.0,395.92 L132.5,394.66 L133.0,396.23 L133.5,396.93 L134.0,394.52 L134.5,395.84 L135.0,396.63 L135.5,396.58 L136.0,398.36 L136.5,398.35 L137.0,398.37 L137.5,399.32 L138.0,400.30 L138.5,400.17 L139.0,399.64 L139.5,400.34 L140.0,401.34 L141.0,401.34 L141.5,401.12 L142.0,399.87 L142.5,400.25 L143.0,400.76 L143.5,402.01 L144.0,405.34 L144.5,409.35 L145.0,412.49 L145.5,413.88 L146.0,414.81 L146.5,415.72 L147.0,417.35 L147.5,419.65 L148.0,421.05 L148.5,421.38 L149.0,423.17 L149.5,425.25 L150.0,425.10 L150.5,425.34 L151.0,426.58 L151.5,428.44 L152.0,430.18 L152.5,432.01 L153.0,434.15 L153.5,436.50 L154.0,438.71 L154.5,439.98 L155.0,441.65 L155.5,443.53 L156.0,444.90 L156.5,447.97 L157.0,449.82 L157.5,451.64 L158.0,453.50 L158.5,454.45 L159.0,457.14 L159.5,459.00 L160.0,460.65 L160.5,462.55 L161.0,464.13 L161.5,466.17 L162.0,467.98 L162.5,470.75 L163.0,472.89 L163.5,474.96 L164.0,475.96 L164.5,477.71 L165.0,482.23 L165.5,485.19 L166.0,488.47 L166.5,491.87 L167.0,494.30 L167.5,497.23 L168.0,501.49 L168.5,504.12 L169.0,505.48 L169.5,507.41 L170.0,509.41 L170.5,511.03 L171.0,512.82 L171.5,516.26 L172.0,518.75 L172.5,520.13 L173.0,522.33 L173.5,525.04 L174.0,527.10 L174.5,529.43 L175.0,531.84 L175.5,533.34 L176.0,535.68 L176.5,536.85 L177.0,538.07 L177.5,540.94 L178.0,542.78 L178.5,544.60 L179.0,546.65 L179.5,548.49 L180.0,551.59 L180.5,554.09 L181.0,555.40 L181.5,557.73 L182.0,559.73 L182.5,561.57 L183.0,563.53 L183.5,565.41 L184.0,566.58 L184.5,567.94 L185.0,569.83 L185.5,570.79 L186.0,572.37 L186.5,573.70 L187.0,575.01 L187.5,576.45 L188.0,577.34 L188.5,578.30 L189.0,579.34 L189.5,579.92 L190.0,580.68 L190.5,581.80 L191.0,582.67 L191.5,583.58 L192.0,584.42 L192.5,585.04 L193.0,585.99 L193.5,587.21 L194.0,587.55 L194.5,587.82 L195.0,588.52 L195.5,589.29 L196.0,590.06 L196.5,590.20 L197.0,590.32 L197.5,590.81 L198.0,591.20 L198.5,591.56 L199.0,592.18 L199.5,592.65 L200.0,593.18 L200.5,593.79 L201.0,593.84 L201.5,593.96 L202.0,594.33 L202.5,594.90 L203.0,595.15 L203.5,595.11 L204.0,595.44 L204.5,595.86 L205.0,596.04 L205.5,596.38 L206.0,596.67 L206.5,596.77 L207.0,596.88 L207.5,597.03 L208.0,597.28 L208.5,597.28 L209.0,597.49 L209.5,597.69 L210.0,597.82 L210.5,597.99 L211.0,598.28 L211.5,598.54 L212.0,598.57 L212.5,598.72 L213.0,598.68 L213.5,598.58 L214.0,598.75 L214.5,599.05 L215.0,599.18 L215.5,599.27 L216.0,599.42 L216.5,599.39 L217.0,599.45 L217.5,599.72 L218.0,599.76 L218.5,599.65 L219.0,599.75 L219.5,599.90 L220.0,600.00 L220.5,600.05 L221.0,600.10 L221.5,600.11 L222.0,600.19 L222.5,600.37 L223.0,600.43 L223.5,600.35 L224.0,600.34 L224.5,600.30 L225.0,600.31 L225.5,600.41 L226.0,600.37 L226.5,600.39 L227.0,600.43 L227.5,600.45 L228.5,600.44 L229.0,600.37 L229.5,600.33 L230.0,600.38 L230.5,600.43 L231.0,600.45 L231.5,600.50 L232.0,600.47 L232.5,600.42 L233.0,600.46 L234.5,600.46 L235.0,600.50 L237.0,600.53 L237.5,600.49 L238.0,600.46 L238.5,600.50 L239.0,600.49 L239.5,600.54 L240.0,600.50 L240.5,600.43 L241.0,600.44 L241.5,600.49 L242.0,600.47 L242.5,600.46 L243.0,600.48 L243.5,600.45 L244.0,600.48 L244.5,600.53 L245.0,600.52 L245.5,600.50 L246.0,600.52 L246.5,600.53 L247.0,600.46 L247.5,600.46 L248.0,600.54 L248.5,600.59 L249.0,600.65 L249.5,600.64 L250.0,600.58 L250.5,600.54 L251.0,600.54 L251.5,600.59 L252.0,600.63 L252.5,600.58 L253.0,600.56 L253.5,600.61 L254.0,600.66 L254.5,600.64 L255.0,600.58 L255.5,600.55 L256.5,600.57 L257.0,600.60 L257.5,600.65 L258.5,600.66 L259.0,600.63 L260.5,600.60 L261.0,600.65 L261.5,600.65 L262.0,600.57 L262.5,600.56 L263.0,600.60 L263.5,600.57 L264.0,600.57 L264.5,600.63 L265.0,600.70 L265.5,600.67 L266.0,600.65 L266.5,600.70 L267.0,600.64 L267.5,600.61 L268.0,600.64 L268.5,600.65 L269.0,600.61 L269.5,600.60 L270.0,600.67 L270.5,600.71 L271.0,600.73 L271.5,600.70 L272.0,600.70 L272.5,600.73 L273.0,600.65 L273.5,600.65 L274.0,600.68 L276.0,600.71 L276.5,600.68 L277.5,600.71 L278.0,600.68 L278.5,600.70 L279.0,600.71 L279.5,600.66 L281.0,600.64 L281.5,600.72 L282.0,600.72 L282.5,600.67 L283.5,600.66 L284.0,600.72 L284.5,600.76 L285.0,600.71 L287.5,600.67 L288.0,600.70 L288.5,600.73 L289.5,600.72 L290.0,600.68 L291.0,600.70 L291.5,600.72 L292.0,600.76 L293.0,600.73 L293.5,600.68 L294.0,600.71 L294.5,600.78 L295.0,600.72 L295.5,600.70 L296.0,600.76 L296.5,600.74 L297.5,600.77 L298.0,600.71 L298.5,600.74 L299.0,600.78 L299.5,600.73 L300.0,600.75 L300.5,600.72 L301.0,600.74 L301.5,600.77 L302.0,600.73 L303.0,600.75 L303.5,600.78 L304.0,600.75 L305.0,600.76 L305.5,600.73 L307.0,600.72 L307.5,600.76 L309.0,600.79 L309.5,600.75 L310.0,600.70 L310.5,600.71 L311.0,600.75 L311.5,600.77 L312.0,600.75 L312.5,600.77 L313.0,600.75 L313.5,600.70 L314.0,600.74 L314.5,600.82 L315.0,600.82 L315.5,600.76 L316.0,600.76 L316.5,600.80 L317.0,600.80 L317.5,600.78 L318.0,600.75 L318.5,600.76 L319.0,600.78 L319.5,600.82 L320.0,600.85 L320.5,600.80 L321.0,600.75 L324.5,600.80 L325.0,600.76 L325.5,600.73 L327.0,600.72 L327.5,600.76 L328.0,600.80 L328.5,600.78 L329.0,600.76 L329.5,600.74 L330.0,600.74 L330.5,600.80 L331.0,600.78 L331.5,600.75 L332.0,600.81 L332.5,600.81 L333.0,600.78 L334.5,600.78 L335.0,600.83 L335.5,600.80 L336.0,600.75 L336.5,600.78 L337.0,600.81 L337.5,600.84 L338.0,600.83 L338.5,600.79 L339.0,600.76 L339.5,600.78 L340.0,600.81 L340.5,600.78 L341.0,600.77 L341.5,600.80 L342.0,600.82 L342.5,600.80 L344.0,600.76 L344.5,600.79 L345.0,600.82 L345.5,600.89 L346.0,600.87 L346.5,600.81 L347.0,600.83 L347.5,600.79 L349.0,600.80 L349.5,600.86 L350.0,600.84 L350.5,600.79 L351.0,600.81 L351.5,600.84 L352.0,600.81 L352.5,600.81 L353.0,600.78 L353.5,600.77 L354.0,600.83 L355.0,600.81 L355.5,600.78 L356.0,600.79 L356.5,600.82 L358.0,600.80 L358.5,600.84 L360.5,600.86 L361.0,600.83 L361.5,600.80 L365.0,600.78 L365.5,600.81 L368.0,600.78 L368.4,600.82" fill="none" stroke="#4a7ebb" stroke-width="1.4" stroke-linejoin="round"/>
<path d="M51.0,601.00 L63.0,600.99 L63.5,600.96 L65.5,600.96 L66.0,600.94 L68.0,600.91 L68.5,600.89 L69.5,600.92 L70.0,600.95 L70.5,600.92 L72.5,600.87 L73.0,600.82 L73.5,600.79 L74.0,600.82 L74.5,600.88 L75.0,600.87 L75.5,600.81 L76.0,600.83 L76.5,600.48 L77.0,599.08 L77.5,597.15 L78.0,594.95 L78.5,591.60 L79.0,587.27 L79.5,583.42 L80.0,580.29 L80.5,577.13 L81.0,574.15 L81.5,571.18 L82.0,569.51 L82.5,568.96 L83.0,567.62 L83.5,565.78 L84.0,564.54 L84.5,563.59 L85.0,562.96 L85.5,562.04 L86.0,561.57 L86.5,560.70 L87.0,558.96 L87.5,557.58 L88.0,555.80 L88.5,553.04 L89.0,550.59 L89.5,549.23 L90.0,547.84 L90.5,545.98 L91.0,545.30 L91.5,545.25 L92.0,544.23 L92.5,542.59 L93.0,541.29 L93.5,540.30 L94.0,539.24 L94.5,538.99 L95.0,538.92 L95.5,538.16 L96.0,537.39 L96.5,537.00 L97.0,536.41 L97.5,535.70 L98.0,534.90 L98.5,534.18 L99.0,534.20 L99.5,533.18 L100.0,530.57 L100.5,528.08 L101.0,525.30 L101.5,521.69 L102.0,517.68 L102.5,512.77 L103.0,509.10 L103.5,505.87 L104.0,502.92 L104.5,500.28 L105.0,498.04 L105.5,495.58 L106.0,492.20 L106.5,489.20 L107.0,484.27 L107.5,479.82 L108.0,475.21 L108.5,472.00 L109.0,469.99 L109.5,467.37 L110.0,464.97 L110.5,464.23 L111.0,462.70 L111.5,459.90 L112.0,459.16 L112.5,458.48 L113.0,456.88 L113.5,455.83 L114.0,454.39 L114.5,451.58 L115.0,448.76 L115.5,445.73 L116.0,442.51 L116.5,441.00 L117.0,441.02 L117.5,441.33 L118.0,441.02 L118.5,439.90 L119.0,440.50 L119.5,440.30 L120.0,438.36 L120.5,438.30 L121.0,437.98 L121.5,437.14 L122.0,436.29 L122.5,434.37 L123.0,432.93 L123.5,432.23 L124.0,431.75 L124.5,430.69 L125.0,429.85 L125.5,428.44 L126.0,427.15 L126.5,423.43 L127.0,418.61 L127.5,416.44 L128.0,416.47 L128.5,417.23 L129.0,415.95 L129.5,415.75 L130.0,418.12 L130.5,419.51 L131.0,419.10 L131.5,417.96 L132.0,417.58 L132.5,415.61 L133.0,414.80 L133.5,416.34 L134.0,415.65 L134.5,415.46 L135.0,416.45 L135.5,417.57 L136.0,419.71 L136.5,422.02 L137.0,424.29 L137.5,426.50 L138.0,427.51 L138.5,428.10 L139.0,430.28 L139.5,431.67 L140.0,431.29 L140.5,432.22 L141.0,433.54 L141.5,434.18 L142.0,435.35 L142.5,436.50 L143.0,437.04 L143.5,436.03 L144.0,435.77 L144.5,437.45 L145.0,437.98 L145.5,438.00 L146.0,438.03 L146.5,436.73 L147.0,437.02 L147.5,437.01 L148.0,435.85 L148.5,438.54 L149.0,440.03 L149.5,440.83 L150.0,443.96 L150.5,445.30 L151.0,445.79 L151.5,448.36 L152.0,450.65 L152.5,451.50 L153.0,453.96 L153.5,456.82 L154.0,458.83 L154.5,460.47 L155.0,461.69 L155.5,462.82 L156.0,464.15 L156.5,465.81 L157.0,468.43 L157.5,470.15 L158.0,471.74 L158.5,473.15 L159.0,474.03 L159.5,475.63 L160.0,477.07 L160.5,478.60 L161.0,480.11 L161.5,482.11 L162.0,483.43 L162.5,484.10 L163.0,485.41 L163.5,487.35 L164.0,490.16 L164.5,492.16 L165.0,494.41 L165.5,497.72 L166.0,500.27 L166.5,502.18 L167.0,505.09 L167.5,507.79 L168.0,509.94 L168.5,512.71 L169.0,515.24 L169.5,516.72 L170.0,518.00 L170.5,520.09 L171.0,521.99 L171.5,522.84 L172.0,525.03 L172.5,527.41 L173.0,528.89 L173.5,530.18 L174.0,532.12 L174.5,534.06 L175.0,535.31 L175.5,536.76 L176.0,538.49 L176.5,540.62 L177.0,542.36 L177.5,544.35 L178.0,546.22 L178.5,548.17 L179.0,549.77 L179.5,550.90 L180.0,552.71 L180.5,554.79 L181.0,556.72 L181.5,558.30 L182.0,558.96 L182.5,560.32 L183.0,562.63 L183.5,563.92 L184.0,564.72 L184.5,566.03 L185.0,567.22 L185.5,568.44 L186.0,569.67 L186.5,570.92 L187.0,572.07 L187.5,572.55 L188.0,573.51 L188.5,574.77 L189.0,575.32 L189.5,575.78 L190.0,576.13 L190.5,577.09 L191.0,578.10 L191.5,578.10 L192.0,578.46 L192.5,579.42 L193.0,580.47 L193.5,581.02 L194.0,581.48 L194.5,581.78 L195.0,581.93 L195.5,582.77 L196.0,583.56 L196.5,583.83 L197.0,584.40 L197.5,584.65 L198.0,584.77 L198.5,585.51 L199.0,586.28 L199.5,586.49 L200.0,586.84 L200.5,587.11 L201.0,587.26 L201.5,587.70 L202.0,587.77 L202.5,588.21 L203.0,588.97 L203.5,589.27 L204.0,589.48 L204.5,590.07 L205.0,590.25 L205.5,590.19 L206.0,590.62 L206.5,591.00 L207.0,591.59 L207.5,592.10 L208.0,592.11 L208.5,592.29 L209.0,593.04 L209.5,593.30 L210.0,593.13 L210.5,593.51 L211.0,593.94 L211.5,594.18 L212.0,594.26 L212.5,594.36 L213.0,594.77 L213.5,595.12 L214.0,595.12 L214.5,595.47 L215.0,595.92 L215.5,595.99 L216.0,596.09 L216.5,596.32 L217.0,596.46 L217.5,596.49 L218.0,596.74 L218.5,596.89 L219.0,597.05 L219.5,597.20 L220.0,597.30 L220.5,597.55 L221.0,597.84 L221.5,597.90 L222.0,597.79 L222.5,597.95 L223.0,598.10 L223.5,598.23 L224.0,598.45 L224.5,598.65 L225.0,598.84 L225.5,598.84 L226.0,599.00 L226.5,599.26 L227.0,599.17 L227.5,598.99 L228.0,599.08 L228.5,599.29 L229.0,599.23 L229.5,599.30 L230.0,599.48 L230.5,599.50 L231.0,599.61 L231.5,599.76 L232.0,599.77 L232.5,599.79 L233.0,599.85 L233.5,599.86 L234.0,599.94 L234.5,600.05 L235.0,600.07 L235.5,600.00 L236.0,600.09 L236.5,600.15 L237.0,600.17 L237.5,600.32 L238.0,600.34 L238.5,600.24 L239.0,600.20 L239.5,600.29 L240.0,600.35 L240.5,600.33 L241.0,600.36 L241.5,600.35 L242.0,600.30 L242.5,600.27 L243.0,600.18 L243.5,600.16 L244.0,600.27 L244.5,600.32 L246.0,600.34 L246.5,600.38 L247.0,600.34 L247.5,600.31 L248.0,600.28 L248.5,600.33 L249.0,600.39 L249.5,600.38 L250.0,600.43 L250.5,600.46 L251.0,600.40 L251.5,600.39 L252.0,600.35 L252.5,600.34 L253.0,600.40 L253.5,600.33 L254.0,600.37 L254.5,600.41 L256.0,600.41 L256.5,600.47 L257.0,600.41 L257.5,600.32 L258.0,600.35 L258.5,600.43 L259.0,600.42 L259.5,600.38 L260.0,600.41 L260.5,600.34 L261.0,600.30 L261.5,600.35 L262.0,600.38 L262.5,600.41 L263.0,600.36 L264.5,600.38 L265.0,600.41 L266.0,600.40 L266.5,600.45 L267.0,600.47 L267.5,600.46 L268.0,600.48 L268.5,600.44 L269.0,600.44 L269.5,600.48 L270.0,600.47 L270.5,600.45 L271.0,600.43 L271.5,600.47 L272.0,600.56 L272.5,600.51 L273.0,600.46 L274.0,600.48 L274.5,600.51 L275.0,600.52 L275.5,600.42 L276.0,600.37 L276.5,600.43 L278.0,600.44 L278.5,600.49 L279.0,600.57 L279.5,600.46 L280.0,600.39 L280.5,600.49 L281.5,600.48 L282.0,600.44 L282.5,600.43 L283.0,600.49 L283.5,600.56 L284.0,600.54 L284.5,600.48 L286.5,600.53 L287.0,600.49 L288.0,600.48 L288.5,600.50 L289.0,600.58 L289.5,600.52 L290.0,600.50 L290.5,600.50 L291.0,600.52 L291.5,600.58 L292.0,600.54 L293.0,600.54 L293.5,600.50 L296.5,600.54 L297.0,600.59 L297.5,600.55 L298.0,600.48 L298.5,600.52 L299.0,600.59 L299.5,600.57 L300.0,600.50 L300.5,600.51 L301.0,600.60 L301.5,600.54 L302.0,600.51 L302.5,600.55 L303.0,600.51 L303.5,600.54 L304.5,600.52 L305.0,600.60 L305.5,600.60 L306.0,600.53 L306.5,600.48 L307.5,600.47 L308.0,600.55 L308.5,600.60 L309.0,600.52 L309.5,600.49 L310.0,600.49 L310.5,600.52 L311.0,600.52 L311.5,600.57 L312.0,600.59 L312.5,600.52 L313.0,600.55 L313.5,600.62 L314.0,600.65 L314.5,600.59 L315.0,600.56 L316.5,600.59 L317.0,600.55 L317.5,600.51 L318.0,600.54 L318.5,600.54 L319.0,600.58 L319.5,600.61 L320.0,600.55 L321.5,600.56 L322.0,600.60 L322.5,600.56 L323.0,600.49 L323.5,600.54 L324.0,600.58 L326.5,600.58 L327.0,600.56 L327.5,600.56 L328.0,600.53 L328.5,600.57 L329.0,600.62 L329.5,600.55 L330.0,600.50 L330.5,600.56 L331.0,600.62 L331.5,600.60 L332.0,600.56 L332.5,600.54 L333.0,600.62 L333.5,600.67 L334.0,600.63 L335.5,600.63 L336.0,600.60 L337.5,600.63 L338.0,600.61 L338.5,600.56 L339.0,600.60 L339.5,600.65 L340.0,600.63 L340.5,600.58 L341.5,600.58 L342.0,600.63 L342.5,600.67 L343.5,600.64 L344.0,600.59 L344.5,600.61 L345.0,600.67 L345.5,600.66 L346.0,600.61 L348.0,600.60 L348.5,600.55 L349.0,600.59 L349.5,600.62 L350.0,600.66 L350.5,600.64 L351.0,600.59 L351.5,600.57 L352.0,600.52 L352.5,600.50 L353.0,600.56 L354.0,600.60 L354.5,600.67 L355.0,600.63 L359.0,600.60 L359.5,600.58 L360.0,600.61 L361.5,600.62 L362.0,600.64 L362.5,600.58 L363.0,600.58 L363.5,600.63 L364.0,600.60 L365.0,600.57 L365.5,600.60 L366.0,600.63 L366.5,600.59 L367.0,600.63 L368.0,600.61 L368.4,600.59" fill="none" stroke="#be4b48" stroke-width="1.4" stroke-linejoin="round"/>
<text transform="translate(50.00,614.7) scale(1.08,1)" font-size="8.4" text-anchor="middle">0</text>
<text transform="translate(156.13,614.7) scale(1.08,1)" font-size="8.4" text-anchor="middle">10</text>
<text transform="translate(262.27,614.7) scale(1.08,1)" font-size="8.4" text-anchor="middle">20</text>
<text transform="translate(368.40,614.7) scale(1.08,1)" font-size="8.4" text-anchor="middle">30</text>
<text x="211.2" y="623.9" font-size="12.4" text-anchor="middle">r (Å)</text>
<text transform="translate(24.3,491.7) rotate(-90)" x="0" y="0" font-size="12.2" text-anchor="middle">RDF</text>
<text x="10.6" y="376" font-size="15" textLength="21.6" lengthAdjust="spacingAndGlyphs">(C)</text>
<line x1="435" y1="377.9" x2="435" y2="605.9" stroke="#000" stroke-width="2"/>
<line x1="434.0" y1="604.9" x2="771.5" y2="604.9" stroke="#000" stroke-width="2"/>
<line x1="432" y1="604.90" x2="435" y2="604.90" stroke="#000" stroke-width="2"/>
<text transform="translate(426.8,608.06) scale(1.08,1)" font-size="8.7" text-anchor="end">0</text>
<line x1="432" y1="582.20" x2="435" y2="582.20" stroke="#000" stroke-width="2"/>
<text transform="translate(426.8,585.36) scale(1.08,1)" font-size="8.7" text-anchor="end">20</text>
<line x1="432" y1="559.50" x2="435" y2="559.50" stroke="#000" stroke-width="2"/>
<text transform="translate(426.8,562.66) scale(1.08,1)" font-size="8.7" text-anchor="end">40</text>
<line x1="432" y1="536.80" x2="435" y2="536.80" stroke="#000" stroke-width="2"/>
<text transform="translate(426.8,539.96) scale(1.08,1)" font-size="8.7" text-anchor="end">60</text>
<line x1="432" y1="514.10" x2="435" y2="514.10" stroke="#000" stroke-width="2"/>
<text transform="translate(426.8,517.26) scale(1.08,1)" font-size="8.7" text-anchor="end">80</text>
<line x1="432" y1="491.40" x2="435" y2="491.40" stroke="#000" stroke-width="2"/>
<text transform="translate(426.8,494.56) scale(1.08,1)" font-size="8.7" text-anchor="end">100</text>
<line x1="432" y1="468.70" x2="435" y2="468.70" stroke="#000" stroke-width="2"/>
<text transform="translate(426.8,471.86) scale(1.08,1)" font-size="8.7" text-anchor="end">120</text>
<line x1="432" y1="446.00" x2="435" y2="446.00" stroke="#000" stroke-width="2"/>
<text transform="translate(426.8,449.16) scale(1.08,1)" font-size="8.7" text-anchor="end">140</text>
<line x1="432" y1="423.30" x2="435" y2="423.30" stroke="#000" stroke-width="2"/>
<text transform="translate(426.8,426.46) scale(1.08,1)" font-size="8.7" text-anchor="end">160</text>
<line x1="432" y1="400.60" x2="435" y2="400.60" stroke="#000" stroke-width="2"/>
<text transform="translate(426.8,403.76) scale(1.08,1)" font-size="8.7" text-anchor="end">180</text>
<line x1="432" y1="377.90" x2="435" y2="377.90" stroke="#000" stroke-width="2"/>
<text transform="translate(426.8,381.06) scale(1.08,1)" font-size="8.7" text-anchor="end">200</text>
<path d="M436.0,604.90 L445.5,604.85 L446.0,604.82 L446.5,604.82 L447.0,604.84 L447.5,604.84 L448.0,604.80 L448.5,604.78 L449.5,604.78 L450.0,604.75 L451.0,604.75 L451.5,604.77 L452.0,604.72 L452.5,604.66 L453.0,604.65 L453.5,604.59 L454.0,604.57 L454.5,604.58 L455.0,604.60 L455.5,604.60 L456.0,604.51 L457.0,604.52 L457.5,604.42 L458.0,604.39 L458.5,604.39 L459.0,604.36 L459.5,603.99 L460.0,602.96 L460.5,601.67 L461.0,600.61 L461.5,599.57 L462.0,598.54 L462.5,597.50 L463.0,596.44 L463.5,594.97 L464.0,593.59 L464.5,592.04 L465.0,590.24 L465.5,588.60 L466.0,587.27 L466.5,586.34 L467.0,584.62 L467.5,583.23 L468.0,581.67 L468.5,579.86 L469.0,578.56 L469.5,576.79 L470.0,575.37 L470.5,574.62 L471.0,572.83 L471.5,571.11 L472.0,569.80 L472.5,568.43 L473.0,566.90 L473.5,564.76 L474.0,562.84 L474.5,560.70 L475.0,558.08 L475.5,556.39 L476.0,554.37 L476.5,551.95 L477.0,550.51 L477.5,548.13 L478.0,545.96 L478.5,544.59 L479.0,542.52 L479.5,539.85 L480.0,536.98 L480.5,535.23 L481.0,534.51 L481.5,533.24 L482.0,531.69 L482.5,530.56 L483.0,529.13 L483.5,527.17 L484.0,525.65 L484.5,523.19 L485.0,520.47 L485.5,519.19 L486.0,517.09 L486.5,512.83 L487.0,509.34 L487.5,507.00 L488.0,504.59 L488.5,501.39 L489.0,497.60 L489.5,494.34 L490.0,492.32 L490.5,490.63 L491.0,488.16 L491.5,486.15 L492.0,484.49 L492.5,483.19 L493.0,481.24 L493.5,479.23 L494.0,478.04 L494.5,476.12 L495.0,473.41 L495.5,472.01 L496.0,470.35 L496.5,468.26 L497.0,466.62 L497.5,463.92 L498.0,462.74 L498.5,461.99 L499.0,459.90 L499.5,457.84 L500.0,455.45 L500.5,452.85 L501.0,451.15 L501.5,450.77 L502.0,449.61 L502.5,446.69 L503.0,444.98 L503.5,443.46 L504.0,441.35 L504.5,440.47 L505.0,438.92 L505.5,436.21 L506.0,434.94 L506.5,435.00 L507.0,434.77 L507.5,434.73 L508.0,433.59 L508.5,432.64 L509.0,432.72 L509.5,431.86 L510.0,431.99 L510.5,432.56 L511.0,431.95 L511.5,432.56 L512.0,432.28 L512.5,430.50 L513.0,429.57 L513.5,428.78 L514.0,428.68 L514.5,429.50 L515.0,430.97 L515.5,432.08 L516.0,431.54 L516.5,430.63 L517.0,430.52 L517.5,429.49 L518.0,430.97 L518.5,431.50 L519.0,429.02 L519.5,429.78 L520.0,430.00 L520.5,429.59 L521.0,431.05 L521.5,430.95 L522.0,430.72 L522.5,431.23 L523.0,431.89 L523.5,431.80 L524.0,431.70 L524.5,433.04 L525.0,434.83 L525.5,435.77 L526.0,436.62 L526.5,437.06 L527.0,436.14 L527.5,436.01 L528.0,435.54 L528.5,435.55 L529.0,436.83 L529.5,438.50 L530.0,440.54 L530.5,441.22 L531.0,441.57 L531.5,441.91 L532.0,442.97 L532.5,444.74 L533.0,445.90 L533.5,446.32 L534.0,448.30 L534.5,450.66 L535.0,450.97 L535.5,451.52 L536.0,452.85 L536.5,454.68 L537.0,456.37 L537.5,458.09 L538.0,460.01 L538.5,461.89 L539.0,463.44 L539.5,463.99 L540.0,464.87 L540.5,465.99 L541.0,466.76 L541.5,469.11 L542.0,470.32 L542.5,471.54 L543.0,472.87 L543.5,473.46 L544.0,475.90 L544.5,477.77 L545.0,479.51 L545.5,481.44 L546.0,482.92 L546.5,484.62 L547.0,486.09 L547.5,488.39 L548.0,490.02 L548.5,491.44 L549.0,491.68 L549.5,492.32 L550.0,495.23 L550.5,496.63 L551.0,498.51 L551.5,500.74 L552.0,502.16 L552.5,504.13 L553.0,507.38 L553.5,509.10 L554.0,509.82 L554.5,511.28 L555.0,512.91 L555.5,514.22 L556.0,515.68 L556.5,518.71 L557.0,520.66 L557.5,521.33 L558.0,522.67 L558.5,524.43 L559.0,525.48 L559.5,526.80 L560.0,528.22 L560.5,528.76 L561.0,530.30 L561.5,530.69 L562.0,531.20 L562.5,533.51 L563.0,534.73 L563.5,535.93 L564.0,537.37 L564.5,538.53 L565.0,540.99 L565.5,542.73 L566.0,543.09 L566.5,544.62 L567.0,545.84 L567.5,546.97 L568.0,548.42 L568.5,549.89 L569.0,550.55 L569.5,551.52 L570.0,553.25 L570.5,553.91 L571.0,555.45 L571.5,556.77 L572.0,558.15 L572.5,559.74 L573.0,560.63 L573.5,561.62 L574.0,562.75 L574.5,563.22 L575.0,563.95 L575.5,565.18 L576.0,566.09 L576.5,567.07 L577.0,567.96 L577.5,568.54 L578.0,569.60 L578.5,571.13 L579.0,571.32 L579.5,571.43 L580.0,572.22 L580.5,573.18 L581.0,574.20 L581.5,574.23 L582.0,574.24 L582.5,574.88 L583.0,575.35 L583.5,575.79 L584.0,576.69 L584.5,577.34 L585.0,578.13 L585.5,579.10 L586.0,579.06 L586.5,579.14 L587.0,579.72 L587.5,580.71 L588.0,581.12 L588.5,580.98 L589.0,581.59 L589.5,582.40 L590.0,582.70 L590.5,583.35 L591.0,583.93 L591.5,584.08 L592.0,584.24 L592.5,584.52 L593.0,585.01 L593.5,584.94 L594.0,585.37 L594.5,585.80 L595.0,586.08 L595.5,586.47 L596.0,587.17 L596.5,587.81 L597.0,587.93 L597.5,588.35 L598.0,588.29 L598.5,588.07 L599.0,588.56 L599.5,589.42 L600.0,589.81 L600.5,590.10 L601.0,590.54 L601.5,590.48 L602.0,590.68 L602.5,591.53 L603.0,591.69 L603.5,591.36 L604.0,591.71 L604.5,592.23 L605.0,592.62 L605.5,592.83 L606.0,593.06 L606.5,593.15 L607.0,593.54 L607.5,594.36 L608.0,594.69 L608.5,594.54 L609.0,594.68 L609.5,594.75 L610.0,595.01 L610.5,595.64 L611.0,595.72 L611.5,596.00 L612.0,596.36 L612.5,596.64 L613.0,596.83 L613.5,596.92 L614.0,596.85 L614.5,596.85 L615.0,597.18 L615.5,597.50 L616.0,597.70 L616.5,597.98 L617.0,598.01 L617.5,597.95 L618.0,598.21 L618.5,598.34 L619.0,598.50 L619.5,598.60 L620.0,598.83 L620.5,598.99 L621.0,599.09 L621.5,599.26 L622.0,599.44 L622.5,599.45 L623.0,599.49 L623.5,599.73 L624.0,599.84 L624.5,600.14 L625.0,600.14 L625.5,600.05 L626.0,600.19 L626.5,600.46 L627.0,600.50 L627.5,600.60 L628.0,600.76 L628.5,600.75 L629.0,600.93 L629.5,601.15 L630.0,601.21 L630.5,601.23 L631.0,601.36 L631.5,601.46 L632.0,601.33 L632.5,601.39 L633.0,601.68 L633.5,601.87 L634.0,602.09 L634.5,602.12 L635.0,602.04 L635.5,602.00 L636.0,602.06 L636.5,602.25 L637.0,602.40 L637.5,602.34 L638.0,602.33 L638.5,602.51 L639.0,602.67 L639.5,602.69 L640.0,602.59 L640.5,602.58 L641.0,602.65 L641.5,602.71 L642.0,602.85 L642.5,603.01 L643.0,603.07 L643.5,603.14 L644.0,603.14 L644.5,603.18 L645.0,603.27 L645.5,603.34 L646.0,603.52 L646.5,603.61 L647.0,603.55 L647.5,603.63 L648.0,603.77 L648.5,603.80 L649.0,603.86 L649.5,604.02 L650.0,604.16 L650.5,604.13 L651.0,604.12 L651.5,604.19 L652.0,604.12 L652.5,604.08 L653.0,604.13 L653.5,604.14 L654.0,604.09 L654.5,604.08 L655.0,604.19 L655.5,604.25 L656.0,604.29 L656.5,604.24 L657.0,604.24 L657.5,604.29 L658.0,604.18 L658.5,604.19 L659.0,604.23 L660.0,604.25 L660.5,604.28 L661.0,604.29 L661.5,604.25 L662.0,604.28 L662.5,604.30 L663.0,604.26 L663.5,604.31 L664.0,604.31 L664.5,604.25 L665.0,604.26 L665.5,604.23 L666.0,604.24 L666.5,604.36 L667.0,604.35 L667.5,604.30 L668.5,604.28 L669.0,604.37 L669.5,604.43 L670.0,604.36 L670.5,604.34 L672.5,604.33 L673.0,604.37 L673.5,604.42 L674.5,604.41 L675.0,604.36 L676.0,604.39 L676.5,604.42 L677.0,604.47 L677.5,604.47 L678.0,604.45 L678.5,604.38 L679.0,604.43 L679.5,604.52 L680.0,604.45 L680.5,604.43 L681.0,604.51 L681.5,604.48 L682.0,604.50 L682.5,604.52 L683.0,604.45 L683.5,604.50 L684.0,604.54 L684.5,604.49 L685.0,604.51 L685.5,604.48 L686.0,604.51 L686.5,604.54 L687.0,604.51 L688.0,604.53 L688.5,604.57 L689.0,604.54 L690.0,604.56 L690.5,604.53 L692.0,604.52 L692.5,604.57 L694.0,604.62 L694.5,604.57 L695.0,604.51 L695.5,604.53 L696.0,604.58 L696.5,604.60 L697.0,604.58 L697.5,604.61 L698.0,604.59 L698.5,604.54 L699.0,604.59 L699.5,604.67 L700.0,604.68 L700.5,604.61 L701.0,604.61 L701.5,604.66 L702.0,604.67 L702.5,604.65 L703.0,604.61 L703.5,604.62 L704.0,604.65 L704.5,604.69 L705.0,604.73 L705.5,604.68 L706.0,604.63 L708.5,604.68 L709.0,604.70 L709.5,604.70 L710.0,604.65 L710.5,604.62 L712.0,604.63 L712.5,604.66 L713.0,604.71 L715.0,604.65 L715.5,604.72 L716.0,604.70 L716.5,604.67 L717.0,604.72 L719.5,604.71 L720.0,604.76 L720.5,604.73 L721.0,604.69 L721.5,604.71 L722.0,604.75 L722.5,604.77 L723.0,604.77 L723.5,604.73 L724.0,604.70 L724.5,604.72 L725.0,604.75 L725.5,604.73 L726.0,604.72 L726.5,604.75 L727.0,604.77 L727.5,604.75 L729.5,604.74 L730.0,604.78 L730.5,604.83 L731.0,604.81 L731.5,604.77 L732.0,604.78 L732.5,604.75 L734.0,604.77 L734.5,604.81 L735.0,604.79 L735.5,604.76 L736.5,604.80 L737.0,604.77 L737.5,604.78 L738.0,604.75 L738.5,604.75 L739.0,604.79 L743.0,604.78 L743.5,604.81 L746.0,604.81 L746.5,604.79 L753.0,604.78 L753.5,604.81 L754.0,604.82 L754.5,604.80 L755.5,604.77 L756.0,604.79 L756.5,604.83 L757.0,604.80 L757.5,604.76 L758.5,604.79 L759.0,604.77 L759.5,604.77 L760.0,604.81 L760.5,604.79 L761.0,604.78 L761.5,604.81 L763.5,604.84 L764.0,604.80 L769.5,604.82 L770.0,604.79 L770.5,604.78 L771.0,604.81 L771.5,604.81" fill="none" stroke="#4a7ebb" stroke-width="1.4" stroke-linejoin="round"/>
<path d="M436.0,604.90 L446.5,604.87 L447.0,604.85 L448.0,604.86 L448.5,604.82 L450.5,604.81 L451.0,604.78 L451.5,604.79 L452.0,604.76 L452.5,604.74 L453.0,604.72 L453.5,604.69 L454.0,604.69 L454.5,604.71 L455.0,604.76 L455.5,604.71 L456.0,604.67 L456.5,604.66 L457.0,604.64 L457.5,604.61 L458.0,604.38 L458.5,602.92 L459.0,600.87 L459.5,599.08 L460.0,596.94 L460.5,594.19 L461.0,592.06 L461.5,590.00 L462.0,587.54 L462.5,585.43 L463.0,583.32 L463.5,581.17 L464.0,578.88 L464.5,577.07 L465.0,575.45 L465.5,573.76 L466.0,571.98 L466.5,569.60 L467.0,568.06 L467.5,567.27 L468.0,565.23 L468.5,562.13 L469.0,559.19 L469.5,556.31 L470.0,553.85 L470.5,551.39 L471.0,549.74 L471.5,547.92 L472.0,545.47 L472.5,544.12 L473.0,542.78 L473.5,540.47 L474.0,538.39 L474.5,537.12 L475.0,535.39 L475.5,533.00 L476.0,531.90 L476.5,531.52 L477.0,530.12 L477.5,528.14 L478.0,526.62 L478.5,525.60 L479.0,524.44 L479.5,523.92 L480.0,523.11 L480.5,520.77 L481.0,517.23 L481.5,513.82 L482.0,510.71 L482.5,507.90 L483.0,505.18 L483.5,502.61 L484.0,501.23 L484.5,499.07 L485.0,495.59 L485.5,493.09 L486.0,491.29 L486.5,490.30 L487.0,489.63 L487.5,487.58 L488.0,486.38 L488.5,485.47 L489.0,484.61 L489.5,483.66 L490.0,482.49 L490.5,480.84 L491.0,478.44 L491.5,477.35 L492.0,476.53 L492.5,475.13 L493.0,472.33 L493.5,470.25 L494.0,468.64 L494.5,465.41 L495.0,461.75 L495.5,459.58 L496.0,456.75 L496.5,452.51 L497.0,450.15 L497.5,447.61 L498.0,443.83 L498.5,440.56 L499.0,437.35 L499.5,433.98 L500.0,431.34 L500.5,428.59 L501.0,425.38 L501.5,423.23 L502.0,421.83 L502.5,420.91 L503.0,419.42 L503.5,417.04 L504.0,416.38 L504.5,415.09 L505.0,412.22 L505.5,411.72 L506.0,411.11 L506.5,410.02 L507.0,409.95 L507.5,409.61 L508.0,410.19 L508.5,412.25 L509.0,415.08 L509.5,415.38 L510.0,414.68 L510.5,413.30 L511.0,412.78 L511.5,412.60 L512.0,412.73 L512.5,414.62 L513.0,415.89 L513.5,417.04 L514.0,416.08 L514.5,416.28 L515.0,418.77 L515.5,419.87 L516.0,419.95 L516.5,421.24 L517.0,424.26 L517.5,423.89 L518.0,423.40 L518.5,425.09 L519.0,424.59 L519.5,424.49 L520.0,424.60 L520.5,424.37 L521.0,425.26 L521.5,426.64 L522.0,427.82 L522.5,429.07 L523.0,429.43 L523.5,429.64 L524.0,431.47 L524.5,432.59 L525.0,432.02 L525.5,432.81 L526.0,434.05 L526.5,434.66 L527.0,435.85 L527.5,437.18 L528.0,438.20 L528.5,438.34 L529.0,439.82 L529.5,443.37 L530.0,445.46 L530.5,446.70 L531.0,447.89 L531.5,447.90 L532.0,449.71 L532.5,451.33 L533.0,451.43 L533.5,454.61 L534.0,456.19 L534.5,456.90 L535.0,459.80 L535.5,461.01 L536.0,461.22 L536.5,463.26 L537.0,465.02 L537.5,465.54 L538.0,467.90 L538.5,470.91 L539.0,473.48 L539.5,475.98 L540.0,478.14 L540.5,480.03 L541.0,481.99 L541.5,484.16 L542.0,487.11 L542.5,489.13 L543.0,491.00 L543.5,492.76 L544.0,494.11 L544.5,496.16 L545.0,498.05 L545.5,499.96 L546.0,501.71 L546.5,503.73 L547.0,505.01 L547.5,505.53 L548.0,506.47 L548.5,507.80 L549.0,509.73 L549.5,510.60 L550.0,511.52 L550.5,513.37 L551.0,514.67 L551.5,515.59 L552.0,517.59 L552.5,519.48 L553.0,520.94 L553.5,523.05 L554.0,525.00 L554.5,526.00 L555.0,526.84 L555.5,528.39 L556.0,529.66 L556.5,529.79 L557.0,531.15 L557.5,532.60 L558.0,533.12 L558.5,533.38 L559.0,534.29 L559.5,535.25 L560.0,535.53 L560.5,536.01 L561.0,536.77 L561.5,537.99 L562.0,538.82 L562.5,539.96 L563.0,541.01 L563.5,542.21 L564.0,543.09 L564.5,543.54 L565.0,544.81 L565.5,546.48 L566.0,548.02 L566.5,549.20 L567.0,549.34 L567.5,550.28 L568.0,552.35 L568.5,553.33 L569.0,553.81 L569.5,554.96 L570.0,556.04 L570.5,557.19 L571.0,558.35 L571.5,559.56 L572.0,560.66 L572.5,560.96 L573.0,561.87 L573.5,563.19 L574.0,563.70 L574.5,564.14 L575.0,564.48 L575.5,565.63 L576.0,566.88 L576.5,566.88 L577.0,567.38 L577.5,568.68 L578.0,570.15 L578.5,571.00 L579.0,571.75 L579.5,572.31 L580.0,572.67 L580.5,573.93 L581.0,575.10 L581.5,575.59 L582.0,576.44 L582.5,576.84 L583.0,577.03 L583.5,578.02 L584.0,579.04 L584.5,579.33 L585.0,579.78 L585.5,580.12 L586.0,580.30 L586.5,580.84 L587.0,580.87 L587.5,581.38 L588.0,582.31 L588.5,582.62 L589.0,582.80 L589.5,583.48 L590.0,583.61 L590.5,583.40 L591.0,583.87 L591.5,584.27 L592.0,584.97 L592.5,585.57 L593.0,585.46 L593.5,585.59 L594.0,586.57 L594.5,586.85 L595.0,586.47 L595.5,586.91 L596.0,587.44 L596.5,587.70 L597.0,587.69 L597.5,587.72 L598.0,588.26 L598.5,588.72 L599.0,588.60 L599.5,589.08 L600.0,589.74 L600.5,589.76 L601.0,589.85 L601.5,590.18 L602.0,590.36 L602.5,590.36 L603.0,590.76 L603.5,590.99 L604.0,591.24 L604.5,591.48 L605.0,591.63 L605.5,592.06 L606.0,592.58 L606.5,592.66 L607.0,592.41 L607.5,592.69 L608.0,592.96 L608.5,593.19 L609.0,593.62 L609.5,594.03 L610.0,594.41 L610.5,594.40 L611.0,594.73 L611.5,595.29 L612.0,595.09 L612.5,594.69 L613.0,594.88 L613.5,595.37 L614.0,595.24 L614.5,595.39 L615.0,595.82 L615.5,595.85 L616.0,596.10 L616.5,596.46 L617.0,596.46 L617.5,596.50 L618.0,596.62 L618.5,596.63 L619.0,596.86 L619.5,597.16 L620.0,597.22 L620.5,597.05 L621.0,597.33 L621.5,597.56 L622.0,597.66 L622.5,598.20 L623.0,598.35 L623.5,598.18 L624.0,598.19 L624.5,598.61 L625.0,598.92 L625.5,599.00 L626.0,599.25 L626.5,599.34 L627.0,599.35 L627.5,599.40 L628.0,599.26 L628.5,599.33 L629.0,599.73 L629.5,599.97 L630.0,600.13 L630.5,600.24 L631.0,600.32 L631.5,600.50 L632.5,600.50 L633.0,600.53 L633.5,600.73 L634.0,600.97 L634.5,601.01 L635.0,601.23 L635.5,601.36 L636.0,601.32 L636.5,601.38 L637.0,601.36 L637.5,601.41 L638.0,601.62 L638.5,601.54 L639.0,601.71 L639.5,601.86 L640.0,601.89 L640.5,601.99 L641.0,602.09 L641.5,602.29 L642.0,602.24 L642.5,602.12 L643.0,602.24 L643.5,602.48 L644.0,602.54 L644.5,602.52 L645.0,602.65 L645.5,602.59 L646.0,602.60 L646.5,602.76 L647.0,602.90 L647.5,603.01 L648.0,603.00 L648.5,603.10 L649.0,603.15 L649.5,603.24 L650.0,603.35 L650.5,603.40 L651.0,603.46 L651.5,603.59 L652.0,603.68 L652.5,603.73 L653.0,603.83 L653.5,603.84 L654.0,603.91 L654.5,604.02 L655.0,604.07 L655.5,604.10 L656.0,604.13 L656.5,604.22 L657.0,604.34 L657.5,604.32 L658.0,604.28 L658.5,604.31 L659.0,604.32 L659.5,604.35 L660.0,604.36 L660.5,604.26 L661.0,604.21 L661.5,604.27 L663.0,604.29 L663.5,604.34 L664.0,604.42 L664.5,604.31 L665.0,604.24 L665.5,604.35 L666.5,604.34 L667.0,604.30 L667.5,604.29 L668.0,604.36 L668.5,604.42 L669.0,604.41 L669.5,604.35 L670.0,604.35 L670.5,604.37 L671.5,604.40 L672.0,604.37 L673.0,604.36 L673.5,604.38 L674.0,604.46 L674.5,604.40 L675.0,604.38 L675.5,604.39 L676.0,604.41 L676.5,604.47 L677.0,604.43 L678.0,604.44 L678.5,604.39 L681.0,604.42 L681.5,604.44 L682.0,604.49 L682.5,604.46 L683.0,604.39 L683.5,604.43 L684.0,604.50 L684.5,604.48 L685.0,604.41 L685.5,604.43 L686.0,604.51 L686.5,604.45 L687.0,604.42 L687.5,604.47 L688.0,604.43 L688.5,604.46 L689.5,604.44 L690.0,604.52 L690.5,604.52 L691.0,604.46 L691.5,604.41 L692.5,604.40 L693.0,604.48 L693.5,604.52 L694.0,604.45 L694.5,604.43 L695.0,604.43 L695.5,604.46 L696.0,604.45 L696.5,604.51 L697.0,604.53 L697.5,604.46 L698.0,604.49 L698.5,604.55 L699.0,604.58 L699.5,604.53 L700.0,604.50 L701.5,604.54 L702.0,604.50 L702.5,604.46 L703.0,604.49 L703.5,604.50 L704.0,604.53 L704.5,604.56 L705.0,604.50 L706.5,604.51 L707.0,604.55 L707.5,604.52 L708.0,604.45 L708.5,604.50 L709.0,604.54 L712.5,604.53 L713.0,604.50 L713.5,604.53 L714.0,604.58 L714.5,604.52 L715.0,604.47 L715.5,604.53 L716.0,604.59 L716.5,604.56 L717.0,604.53 L717.5,604.52 L718.0,604.58 L718.5,604.63 L719.0,604.59 L720.5,604.60 L721.0,604.57 L723.0,604.58 L723.5,604.54 L724.0,604.57 L724.5,604.62 L725.0,604.60 L725.5,604.56 L726.5,604.56 L727.0,604.61 L727.5,604.64 L728.5,604.61 L729.0,604.57 L729.5,604.59 L730.0,604.65 L730.5,604.63 L731.0,604.59 L733.0,604.58 L733.5,604.54 L734.0,604.57 L734.5,604.60 L735.0,604.64 L735.5,604.62 L736.0,604.58 L736.5,604.56 L737.0,604.51 L737.5,604.50 L738.0,604.56 L739.0,604.59 L739.5,604.65 L740.0,604.62 L744.5,604.58 L745.0,604.60 L746.5,604.61 L747.0,604.63 L747.5,604.58 L748.0,604.57 L748.5,604.62 L749.0,604.59 L750.0,604.57 L750.5,604.60 L751.0,604.62 L751.5,604.59 L752.0,604.62 L753.0,604.61 L753.5,604.59 L754.0,604.56 L755.0,604.56 L755.5,604.62 L756.5,604.62 L757.0,604.59 L757.5,604.55 L758.0,604.57 L758.5,604.60 L761.0,604.60 L761.5,604.63 L762.0,604.62 L762.5,604.59 L763.0,604.64 L763.5,604.64 L764.0,604.62 L764.5,604.60 L765.0,604.63 L765.5,604.59 L766.0,604.52 L766.5,604.55 L767.0,604.61 L767.5,604.65 L768.0,604.60 L768.5,604.56 L769.0,604.58 L769.5,604.61 L770.0,604.59 L770.5,604.55 L771.0,604.54 L771.5,604.58" fill="none" stroke="#be4b48" stroke-width="1.4" stroke-linejoin="round"/>
<text transform="translate(435.00,618.5) scale(1.08,1)" font-size="8.3" text-anchor="middle">0</text>
<text transform="translate(547.17,618.5) scale(1.08,1)" font-size="8.3" text-anchor="middle">10</text>
<text transform="translate(659.33,618.5) scale(1.08,1)" font-size="8.3" text-anchor="middle">20</text>
<text transform="translate(771.50,618.5) scale(1.08,1)" font-size="8.3" text-anchor="middle">30</text>
<text x="601.5" y="626.6" font-size="11.4" text-anchor="middle">r (Å)</text>
<text transform="translate(409.4,491.0) rotate(-90)" x="0" y="0" font-size="12.4" text-anchor="middle">RDF</text>
<text x="395.7" y="368.6" font-size="15" textLength="21.6" lengthAdjust="spacingAndGlyphs">(D)</text>
</g>
<rect x="1.9" y="1.5" width="788.7" height="40.8" fill="none" stroke="#707070" stroke-width="1.4"/>
<rect x="1.9" y="58.3" width="383.5" height="290.3" fill="none" stroke="#707070" stroke-width="1.4"/>
<rect x="389.4" y="58.3" width="401.4" height="290.3" fill="none" stroke="#707070" stroke-width="1.4"/>
<rect x="1.9" y="352.5" width="383.6" height="288.79999999999995" fill="none" stroke="#707070" stroke-width="1.4"/>
<rect x="389.4" y="351.6" width="401.4" height="289.69999999999993" fill="none" stroke="#707070" stroke-width="1.4"/>
</svg>
</body></html>
